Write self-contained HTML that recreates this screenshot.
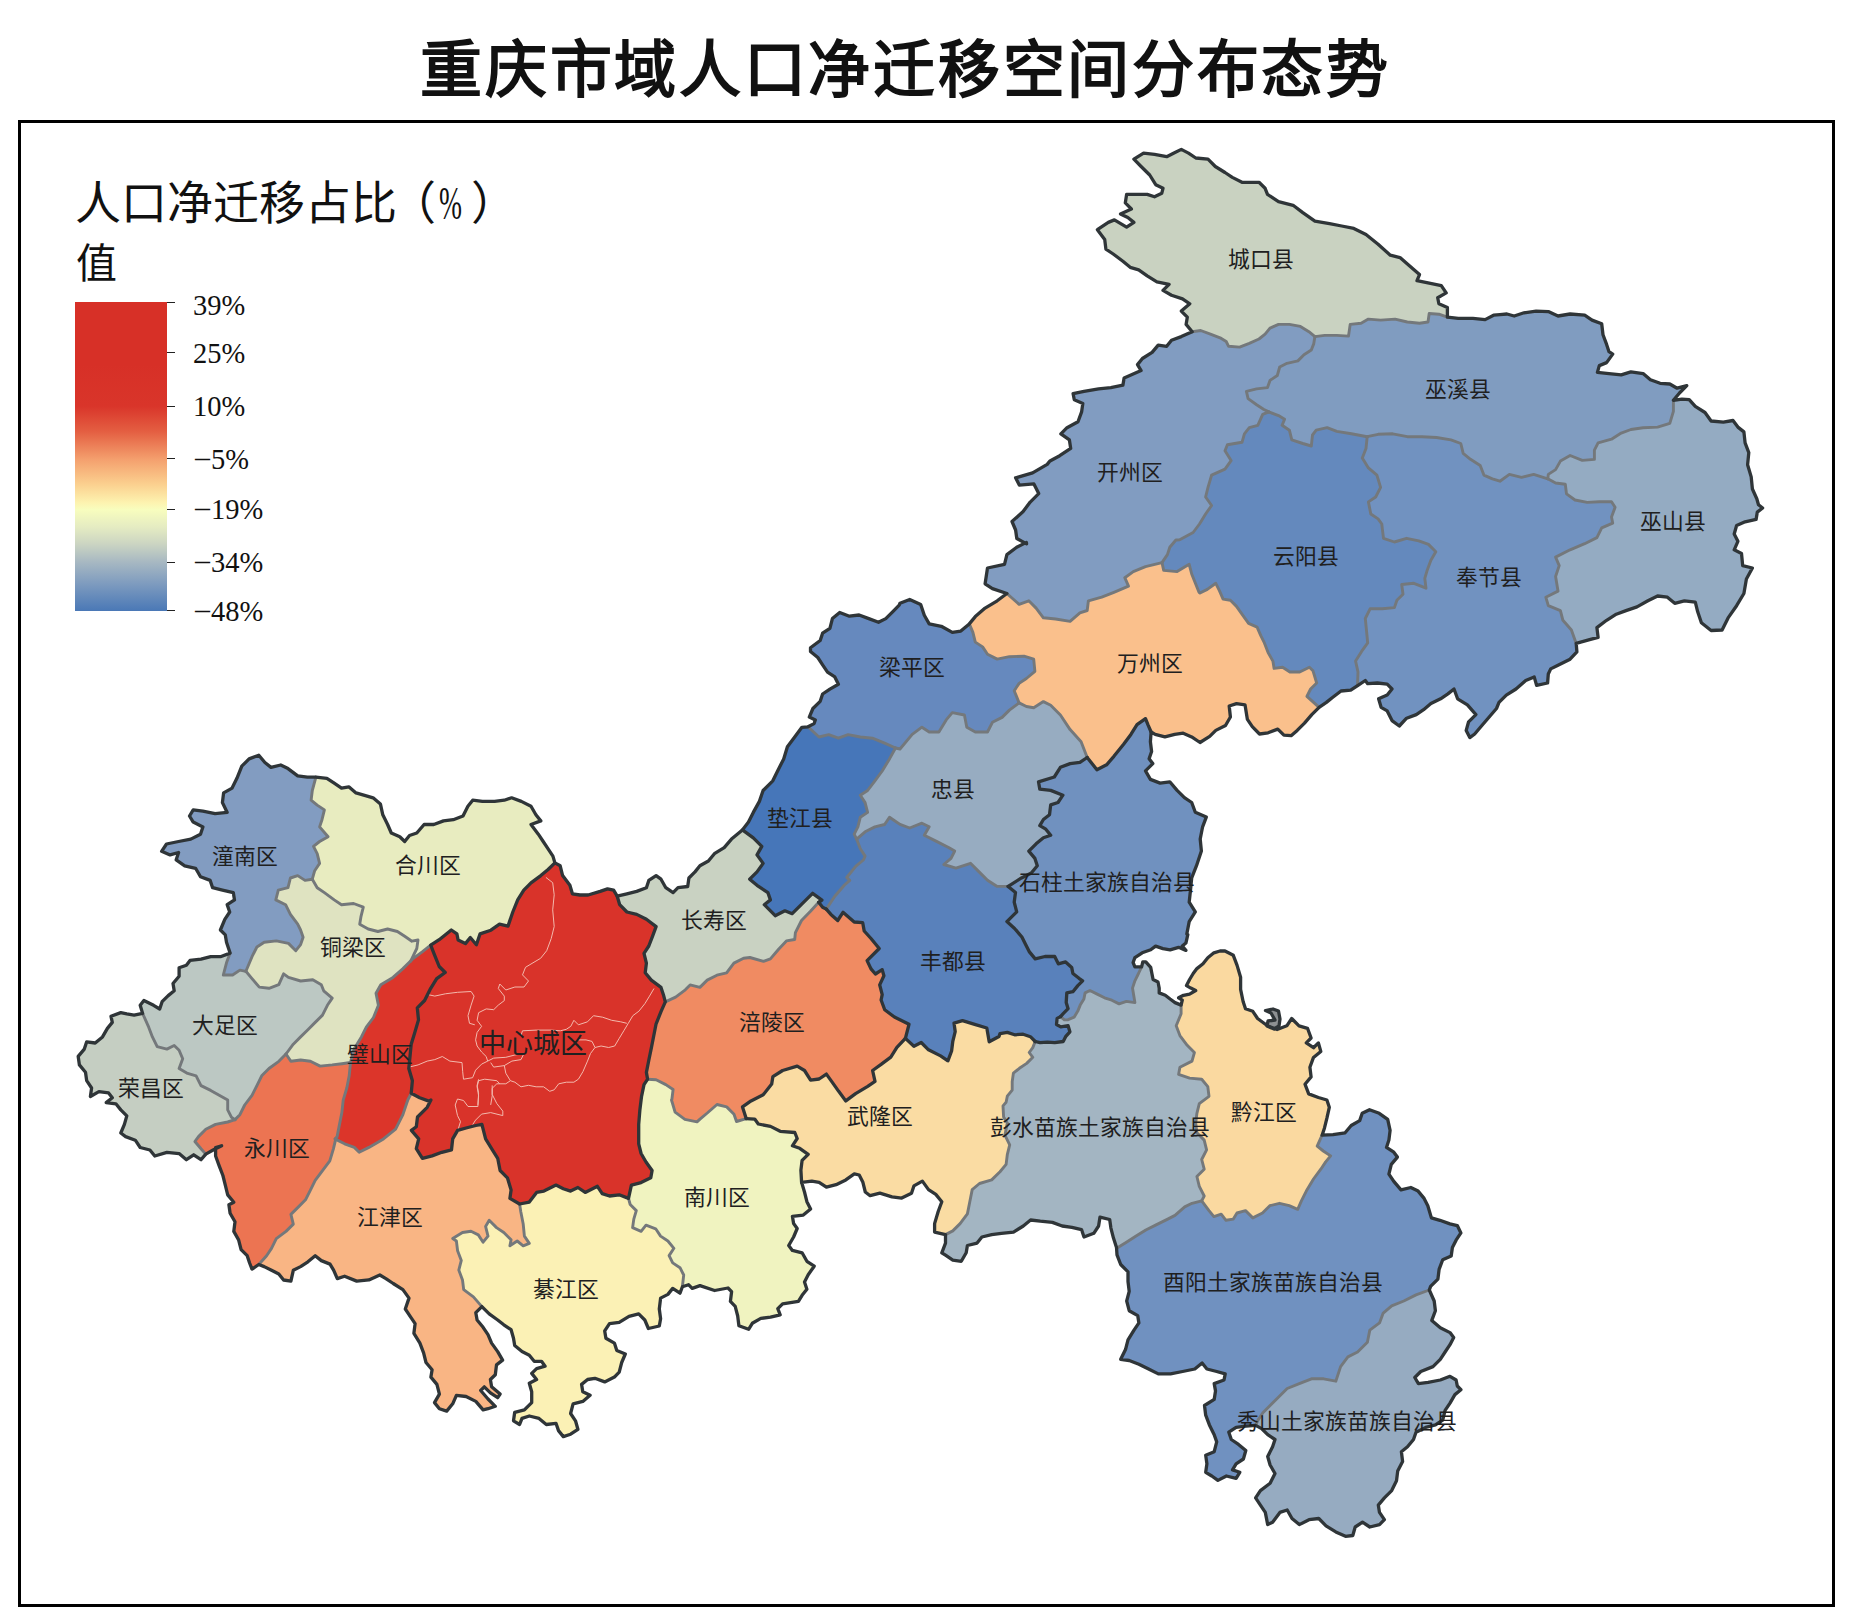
<!DOCTYPE html><html lang="zh-CN"><head><meta charset="utf-8"><title>重庆市域人口净迁移空间分布态势</title><style>
html,body{margin:0;padding:0;background:#fff}
body{width:1852px;height:1621px;position:relative;overflow:hidden;font-family:"Liberation Serif",serif;color:#111}
.title{position:absolute;left:0;top:26px;width:1811px;text-align:center;font-size:62px;font-weight:bold;line-height:90px;white-space:nowrap;letter-spacing:2.7px}
.frame{position:absolute;left:18px;top:120px;width:1817px;height:1487px;border:3px solid #000;box-sizing:border-box}
svg{position:absolute;left:0;top:0}
.lt{position:absolute;left:75px;top:174px;font-size:46px;line-height:60px;white-space:nowrap}
.pc{display:inline-block;width:23px;transform:scaleX(.6);transform-origin:0 50%}
.mn{display:inline-block;width:18px;transform:scaleX(1.15);transform-origin:0 50%}
.lv{position:absolute;left:76px;top:234px;font-size:41px;line-height:60px;white-space:nowrap}
.bar{position:absolute;left:75px;top:302px;width:92px;height:309px;background:linear-gradient(to bottom,#d73027 0%,#d73027 20%,#d9352a 33.7%,#e45f42 42%,#f4a06e 51%,#fbd08f 59%,#fdf3b0 65%,#f8fdbe 67.2%,#e4ebc2 73%,#cdd6c2 78%,#a7b8c2 84.2%,#7f9cbf 91%,#4a78b6 100%)}
.tk{position:absolute;left:167px;width:8px;height:1px;background:#222}
.tl{position:absolute;left:193px;font-size:28.5px;line-height:30px;white-space:nowrap}
</style></head><body>
<div class="title">重庆市域人口净迁移空间分布态势</div>
<div class="frame"></div>
<svg width="1852" height="1621" viewBox="0 0 1852 1621">
<path d="M1050,461 1059.7,455.7 1070.7,448.4 1069.4,439.9 1060.9,433.8 1067,427.7 1078,421.7 1081.6,411.9 1082.8,403.4 1074.3,399.8 1073.1,393.7 1084,391.3 1098.6,388.9 1110.8,387.6 1122.9,385.2 1124.1,377.9 1132.6,374.3 1141.1,370.6 1137.5,364.6 1142.4,358.5 1152.1,352.4 1158.2,345.1 1166.7,346.3 1171.5,340.2 1181.3,336.6 1192.2,331.7 1186.1,324.4 1187.3,317.2 1181.3,311.1 1189.8,303.8 1182.5,298.9 1171.5,295.3 1163,290.4 1169.1,284.3 1156.9,281.9 1147.2,275.8 1138.7,269.8 1130.2,267.3 1122.9,261.3 1113.2,254 1105.9,249.1 1104.7,239.4 1097.4,229.7 1108.3,222.4 1114.4,219.9 1126.6,227.2 1133.9,222.4 1127.8,217.5 1120.5,213.9 1131.4,209 1125.3,202.9 1126.6,194.4 1135.1,194.4 1147.2,194.4 1154.5,196.8 1161.8,193.2 1163,188.3 1155.7,184.7 1149.7,175 1141.1,166.5 1133.9,159.2 1143.6,153.1 1154.5,154.3 1166.7,156.7 1174,153.1 1181.3,149.4 1188.5,153.1 1195.8,158 1208,159.2 1215.3,166.5 1225,172.5 1232.3,177.4 1242,182.3 1259,182.3 1265.1,188.3 1267.5,194.4 1278.5,201.7 1293.1,205.3 1302.8,212.6 1314.9,221.1 1329.5,223.6 1341.7,226 1353.8,228.4 1366,234.5 1378.1,244.2 1390.3,255.2 1400,257.6 1409.7,266.1 1419.5,274.6 1417,280.7 1429.2,283.1 1441.3,285.6 1446.2,292.9 1437.7,297.7 1438.9,303.8 1447.4,307.4 1447.4,317.2 1458.3,318.4 1472.9,318.4 1485.1,319.6 1493.6,315.2 1499.9,314.7 1506.9,314 1514.2,316 1524,312.8 1536.1,311.1 1548.3,311.6 1558,316 1570.1,314 1584.7,315.2 1592,320.1 1601.7,323.8 1603,334.7 1606.6,344.4 1609,351.7 1612.7,354.1 1606.6,362.6 1599.3,365.6 1597.4,372.4 1609,373.6 1621.2,374.8 1630.9,371.9 1643.1,373.6 1650.4,379.7 1660.1,383.3 1669.8,384 1677.1,388.2 1686.8,385.7 1679.5,393 1673.4,400.3 1681.9,399.1 1689.2,399.6 1695.3,406.4 1705,412.5 1711.1,421 1723.3,422.2 1733,420.5 1737.9,427.1 1743.9,431.9 1745.1,442.9 1748.8,452.6 1747.6,464.7 1751.2,476.9 1752.4,489 1756.8,498.8 1758.5,504.8 1762.6,508 1757.3,512.1 1756.1,519.4 1745.1,521.8 1736.6,525.5 1734.2,534 1737.9,541.3 1734.2,549.8 1741.5,553.4 1742.7,565.6 1752.4,568 1746.4,579 1743.9,593.5 1736.6,605.7 1728.1,617.9 1722.1,630 1711.1,630.5 1701.4,622.7 1697.7,611.8 1695.3,602.1 1684.4,600.8 1674.7,603.3 1667.4,597.2 1657.6,596 1647.9,600.8 1637,606.9 1626,610.6 1616.3,614.2 1606.6,620.3 1596.9,627.6 1598.1,637.3 1589.6,639.7 1576.2,643.4 1576.9,651.9 1570.1,659.2 1558,665.2 1550.7,668.9 1548.3,674 1547.6,683 1536.6,685.4 1534.2,676.9 1525.7,680.5 1516,689 1506.3,695.1 1499,702.4 1496.5,708.5 1489.2,717 1481.9,725.5 1474.7,734 1469.8,737.6 1466.2,730.4 1468.6,721.8 1475.9,714.6 1467.4,704.8 1457.6,698.8 1454,689 1447.9,693.9 1440.6,698.8 1430.9,703.6 1423.6,709.7 1416.3,714.6 1406.6,718.2 1399.3,726 1392,720.6 1387.2,710.9 1381.1,707.3 1378.6,698.8 1387.2,695.1 1392,689 1387.2,684.2 1377.4,683 1367.7,683.7 1365.3,680.5 1358,685.4 1350.7,690.2 1341,691 1332.5,697.5 1326.4,702.4 1319.1,707.3 1311.8,714.6 1304.5,723.1 1297.2,730.4 1291.1,735.7 1283.9,735.2 1277.8,729.1 1268.1,732.8 1259.5,734 1252.3,726.7 1247.4,719.4 1245,704.8 1236.5,703.6 1229.2,706 1230.4,717 1225.5,725.5 1215.8,730.4 1209.7,736.4 1200,742.5 1191.7,736.9 1183.2,733.2 1174.7,734.4 1164.9,736.9 1155.2,734.4 1151.1,732 1150.4,741.7 1151.6,751.5 1149.1,758.8 1152.8,763.6 1145.5,770.9 1150.4,779.4 1160.1,783.1 1169.8,781.8 1177.1,790.4 1184.4,797.6 1191.7,802.5 1195.3,812.2 1206.3,817.1 1202.6,826.8 1200.2,839 1201.4,851.1 1196.5,865.7 1191.7,877.9 1190.5,890 1189.2,902.2 1195.3,911.9 1189.2,921.6 1186.8,934 1187.8,934.6 1185.9,943.1 1182.3,946.1 1185.9,950.4 1178.6,947.3 1170.1,949.8 1162.9,948.6 1155.6,946.1 1150.7,949.8 1142.2,952.8 1134.9,957.7 1133.1,962.5 1134.9,966.8 1141.6,966.8 1142.8,961.9 1145.8,961.9 1150.7,967.4 1151.9,973.5 1153.1,979.5 1158,982 1159.2,988.1 1159.2,992.9 1165.3,995.3 1170.1,999 1175,1002.6 1181.1,1005.1 1182.3,1000.2 1178.6,997.8 1183.5,995.3 1189.6,994.1 1195.7,990.5 1190.8,988.1 1186.5,985.6 1189.6,979.5 1193.2,973.5 1196.9,968.6 1203,963.8 1207.8,957.7 1213.9,952.8 1220,951 1225,951 1233.3,955.3 1237,965.1 1240.6,977.2 1240.6,989.4 1243.1,1001.5 1245.5,1008.8 1252.8,1011.3 1257.6,1018.5 1267.4,1025.8 1277.1,1029.5 1286.8,1025.8 1291.7,1018.5 1299,1025.8 1307.5,1028.3 1311.1,1038 1306.3,1042.9 1313.5,1047.7 1318.4,1042.9 1320.8,1051.4 1313.5,1057.4 1309.9,1067.2 1311.1,1076.9 1305,1084.2 1308.7,1093.9 1318.4,1097.5 1326.9,1100 1329.3,1107.3 1326.9,1118.2 1324.5,1127.9 1322.1,1135.2 1333,1134.7 1345.1,1132.8 1351.2,1125.5 1359.7,1120.6 1362.2,1113.3 1369.5,1109.7 1379.2,1113.3 1387.7,1119.4 1390.1,1130.4 1388.9,1140.1 1386.5,1147.4 1393.8,1152.2 1397.4,1157.1 1391.3,1164.4 1388.9,1174.1 1393.8,1181.4 1401,1189.9 1410.8,1187.5 1418.1,1191.1 1424.1,1198.4 1427.8,1205.7 1431.4,1217.9 1439.9,1220.3 1449.9,1223.9 1457.3,1225.6 1460.9,1232.9 1456.1,1240.2 1452.4,1247.5 1451.2,1256 1442.7,1259.7 1439.1,1269.4 1437.9,1279.1 1430.6,1286.4 1429.3,1290 1434.2,1301 1435.4,1310.7 1431.8,1320.4 1440.3,1327.7 1450,1332.6 1453.7,1337.4 1450,1344.7 1445.1,1352 1440.3,1359.3 1433,1366.6 1420.8,1371.5 1414.8,1377.5 1418.4,1383.6 1428.1,1382.4 1440.3,1380 1450,1376.3 1456.1,1380 1457.3,1386 1460.9,1389.7 1454.9,1394.6 1450,1403.1 1445.1,1410.4 1442.7,1420.1 1435.4,1424.9 1425.7,1427.4 1416,1432.2 1413.5,1439.5 1407.5,1446.8 1401.4,1451.7 1402.6,1461.4 1397.7,1471.1 1396.5,1480.8 1391.7,1490.6 1384.4,1497.9 1378.3,1505.1 1379.5,1512.4 1384.4,1519.7 1379.5,1524.6 1369.8,1527 1362.5,1522.2 1355.2,1527 1352.8,1535.5 1345.5,1536.3 1335.8,1531.9 1326,1525.8 1318.8,1518.5 1309,1519.7 1299.3,1524.6 1292,1518.5 1287.2,1510 1279.9,1512.4 1272.6,1522.2 1267.7,1524.6 1265.3,1512.4 1260.4,1505.1 1255.6,1497.9 1260.4,1490.6 1270.1,1483.3 1275,1473.5 1270.1,1465 1267.7,1456.5 1272.6,1446.8 1275,1439.5 1267.7,1434.7 1261.6,1428.6 1255.6,1425.4 1245.8,1426.2 1236.1,1427.4 1228.8,1432.2 1231.3,1439.5 1238.5,1444.4 1245.8,1450.5 1243.4,1459 1236.1,1463.8 1232.5,1469.9 1239.8,1472.3 1236.1,1478.4 1226.4,1476 1217.9,1480.4 1211.8,1476 1205.7,1472.3 1206.9,1463.8 1205.7,1455.3 1214.2,1451.7 1216.7,1441.9 1214.2,1434.7 1209.4,1424.9 1205.7,1415.2 1204.5,1405.5 1214.2,1399.4 1215.5,1390.9 1214.2,1383.6 1224,1380 1225.2,1373.9 1216.7,1371.5 1206.9,1369 1202.1,1363 1194.8,1369 1182.6,1371.5 1170.5,1373.9 1158.3,1373.9 1148.6,1369 1138.9,1364.2 1129.2,1360.5 1120.7,1359.3 1125.5,1349.6 1128,1339.9 1134,1330.1 1138.9,1322.9 1137.7,1315.6 1129.2,1310.7 1126.7,1301 1129.2,1291.3 1128,1281.5 1128,1271.8 1120.7,1264.5 1117,1254.8 1116.5,1247.5 1113.4,1237.8 1110.9,1228.1 1109.7,1219.5 1100,1217.1 1098.6,1226 1093.8,1233.3 1084,1237 1081.6,1229.7 1071.9,1227.3 1062.2,1226 1052.4,1222.4 1040.3,1221.2 1030.6,1220 1023.3,1226 1013.5,1232.1 1001.4,1233.3 991.7,1234.6 981.9,1237 977.1,1243.1 967.4,1245.5 966.2,1252.8 961.3,1261.3 952.8,1260.1 945.5,1255.2 941.8,1252.8 945.5,1243.1 945.5,1234.6 934.6,1232.1 934.6,1223.6 938.2,1211.5 941.8,1201.7 935.8,1194.4 928.5,1189.6 922.4,1181.1 913.9,1185.9 911.5,1193.2 901.7,1198.1 892,1196.9 879.9,1193.2 870.1,1195.7 865.3,1192 862.9,1182.3 859.2,1175 854.3,1173.8 845.8,1179.9 836.1,1184.7 826.4,1187.2 819.1,1182.3 811.8,1181.1 801.6,1182.3 804.5,1192 806.9,1201.7 810.6,1209 803.3,1215.1 792.4,1216.3 793.6,1223.6 797.2,1228.5 793.6,1237 788.7,1245.5 792.4,1250.4 802.1,1252.8 806.9,1261.3 814.2,1266.2 808.2,1274.7 804.5,1281.9 806.9,1289.2 802.1,1295.3 798.4,1301.4 782.6,1303.8 777.8,1308.7 780.2,1314.8 770.5,1317.2 760.8,1318.4 752.3,1323.3 748.6,1329.3 738.9,1325.7 737.7,1316 735.2,1306.3 730.4,1301.4 731.6,1291.7 728,1288 714.6,1290.5 700,1285.6 692.2,1288.4 688.5,1284.7 682.4,1286.7 680,1293.2 672.7,1288.4 667.9,1294.4 660.6,1298.1 659.3,1309 660.6,1318.8 659.3,1326 648.4,1328.5 644.8,1320 638.7,1313.9 629,1316.3 619.2,1322.4 609.5,1323.6 604.7,1330.9 605.9,1338.2 614.4,1343.1 616.8,1350.4 625.3,1354 621.7,1362.5 619.2,1372.2 614.4,1377.1 604.7,1381.9 594.9,1378.3 587.6,1379.5 581.6,1384.4 582.8,1391.7 590.1,1395.3 582.8,1401.4 573.1,1403.8 570.6,1413.5 575.5,1420.8 577.9,1429.3 570.6,1434.2 563.3,1436.6 558.5,1430.6 556,1423.3 546.3,1424.5 539,1418.4 529.3,1416 522,1418.4 519.6,1424.5 513.5,1420.8 514.7,1412.3 524.4,1409.9 531.7,1402.6 531.7,1391.7 529.3,1383.2 536.6,1379.5 531.7,1373.4 536.6,1368.6 545.1,1366.2 541.5,1361.3 534.2,1361.3 529.3,1355.2 522,1351.6 514.7,1345.5 513.5,1338.2 511.1,1329.7 503.8,1324.8 497.7,1320 489.2,1313.9 481.9,1306.6 475.8,1312.7 477.1,1320 483.1,1327.3 488,1334.6 491.6,1343.1 497.7,1351.6 502.6,1360.1 496.5,1364.9 495.3,1374.7 490.4,1379.5 491.6,1386.8 500.1,1394.1 497.7,1397.7 490.4,1392.9 484.3,1386.8 480.7,1390.5 488,1399 495.3,1406.3 488,1408.7 483.1,1409.9 475.8,1401.4 466.1,1396.5 456.4,1395.3 452.7,1403.8 446.7,1411.1 439.4,1408.7 434.5,1402.6 439.4,1394.1 436.9,1384.4 430.9,1377.1 432.1,1369.8 426,1362.5 423.6,1352.8 419.9,1343.1 413.9,1333.3 415.1,1323.6 410.2,1316.3 405.3,1309 409,1298.1 402.9,1289.6 393.2,1283.5 385.9,1278.6 379.8,1275 368.9,1279.9 356.7,1281.1 344.6,1276.2 337.3,1278.6 333.6,1270.1 330,1264.1 321.3,1260.6 315.2,1255.7 307.9,1261.8 300.6,1266.6 293.3,1270.3 290.9,1281.2 283.6,1280 278.8,1273.9 271.5,1270.3 264.2,1266.6 258.8,1264.5 252,1269.1 249.6,1263 247.2,1255.7 241.1,1249.6 238.6,1239.9 233.8,1231.4 235,1221.7 230.1,1213.2 228.9,1204.7 233.8,1202.2 227.7,1194.9 225.3,1185.2 222.9,1175.5 219.2,1165.8 215.6,1156 215.6,1147.5 221.6,1145.8 213.1,1150 205.8,1154.1 201,1159.7 193.7,1154.8 186.4,1159.7 179.1,1153.6 166.9,1152.4 154.8,1156 149.9,1150 140.2,1147.5 135.3,1140.2 125.6,1136.6 120.8,1133 124.4,1124.4 126.8,1115.9 120.8,1109.9 115.9,1103.8 106.2,1102.6 112.3,1097.7 108.6,1092.9 98.9,1091.6 90.4,1096.5 91.6,1088 86.7,1080.7 85.5,1072.2 79.4,1064.9 78.2,1056.4 84.3,1049.1 86.7,1041.8 95.2,1043 102.5,1036.9 107.4,1028.4 112.3,1022.4 111,1016.3 120.8,1012.6 126.8,1013.9 134.1,1015.1 142.6,1013.4 140.2,1005.3 143.9,1000.5 153.6,1005.3 159.7,1009 162.1,1001.7 168.2,995.6 174.2,990.8 173,983.5 179.1,976.2 179.1,967.7 186.4,965.2 190,960.4 201,959.2 210.7,956.7 220.4,956.7 230.1,953.1 226.5,942.2 225.3,934.9 220.4,930 224.8,919.3 229.7,912 227.2,904.7 234.5,899.9 233.3,892.6 222.4,890.1 212.6,887.7 210.2,880.4 200.5,876.8 195.6,868.3 184.7,865.8 176.2,859.8 178.6,852.5 170.1,854.9 161.6,851.3 166.5,844 178.6,841.5 190.8,839.1 200.5,834.2 202.9,826.9 193.2,822.1 189.5,816 193.2,809.9 202.9,811.1 215.1,813.6 227.2,812.4 222.4,802.6 223.6,792.9 232.1,788.1 236.9,778.3 241.8,766.2 249.1,758.9 258.8,755.2 264.9,762.5 271,767.4 280.7,765 288,768.6 297.7,775.9 307.4,777.1 315.9,777.1 326.9,778.3 334.2,783.2 341.5,788.1 348.8,786.8 356,792.9 364.6,795.3 373.1,797.8 380.4,803.9 382.8,814.8 387.6,824.5 391.3,833 399.8,836.7 404.7,841.5 409.5,835.5 416.8,833 424.1,824.5 433.8,824.5 443.5,820.9 453.3,819.7 463,816 467.9,806.3 472.7,800.2 482.4,801.4 494.6,801.4 504.3,800.2 511.6,797.8 521.3,801.4 531,806.3 535.9,814.8 540.8,820.9 531,824.5 538.3,834.2 543.2,841.5 548.1,848.8 552.9,856.1 554.9,862.9 560.2,865.8 562.6,875.6 569.9,885.3 572.4,893.8 579.9,895 588.1,895 600.2,891.4 607.5,888.9 613.6,890.1 617.2,896.2 626.9,893.8 636.7,891.4 646.4,887.7 648.8,880.4 656.1,875.6 661,879.2 665.8,887.7 673.1,892.6 678,887.7 687.7,886.5 688.9,878 695,871.9 699.9,865.8 708.4,861 714.4,853.7 724.2,847.6 731.5,839.1 738.8,833 742.4,829.9 748.5,822.1 753.3,812.4 759.4,801.4 763.1,790.5 772.8,780.8 777.6,771 783.7,758.9 787.4,746.7 794.7,737 801.9,727.3 808,726.8 814.1,723.6 815.3,720 815.3,720 809.3,717.1 812.9,708.5 820.2,701.3 822.6,694 829.9,689.1 838.4,684.2 834.8,676.9 827.5,672.1 822.6,664.8 817.8,657.5 810.5,651.4 810.5,647.8 820.2,640.5 822.6,633.2 829.9,628.3 832.4,618.6 839.7,612.5 849.4,616.2 859.1,615 868.8,618.6 878.5,622.3 885.8,618.6 893.1,611.3 899.2,605.2 900,603.2 909.7,599.5 920.7,604.4 924.3,615.3 929.2,623.9 941.3,626.3 952.3,632.4 960.8,631.1 969.3,623.9 975.3,616.6 985.1,608.1 997.2,600.8 1006.9,593.5 992.4,588.6 985.1,583.8 987.5,568 1004.5,564.3 1006.9,554.6 1016.7,547.3 1026.4,542.4 1026.6,543.9 1016.8,538.5 1015.6,530 1012,521.5 1022.9,511.8 1030.2,502.1 1038.7,493.6 1033.9,483.9 1019.3,485.1 1015.6,477.8 1032.6,472.9 1047.2,464.4 1049.9,461Z" fill="#74787b"/>
<g stroke-width="1" stroke-linejoin="round">
<path d="M1447.4,317.2 1447.4,307.4 1438.9,303.8 1437.7,297.7 1446.2,292.9 1441.3,285.6 1429.2,283.1 1417,280.7 1419.5,274.6 1409.7,266.1 1400,257.6 1390.3,255.2 1378.1,244.2 1366,234.5 1353.8,228.4 1341.7,226 1329.5,223.6 1314.9,221.1 1302.8,212.6 1293.1,205.3 1278.5,201.7 1267.5,194.4 1265.1,188.3 1259,182.3 1242,182.3 1232.3,177.4 1225,172.5 1215.3,166.5 1208,159.2 1195.8,158 1188.5,153.1 1181.3,149.4 1174,153.1 1166.7,156.7 1154.5,154.3 1143.6,153.1 1133.9,159.2 1141.1,166.5 1149.7,175 1155.7,184.7 1163,188.3 1161.8,193.2 1154.5,196.8 1147.2,194.4 1135.1,194.4 1126.6,194.4 1125.3,202.9 1131.4,209 1120.5,213.9 1127.8,217.5 1133.9,222.4 1126.6,227.2 1114.4,219.9 1108.3,222.4 1097.4,229.7 1104.7,239.4 1105.9,249.1 1113.2,254 1122.9,261.3 1130.2,267.3 1138.7,269.8 1147.2,275.8 1156.9,281.9 1169.1,284.3 1163,290.4 1171.5,295.3 1182.5,298.9 1189.8,303.8 1181.3,311.1 1187.3,317.2 1186.1,324.4 1192.2,331.7 1200.7,330.5 1210.4,334.2 1220.1,337.8 1226.2,341.5 1228.6,346.3 1239.6,347.1 1249.3,343.4 1259,339 1265.1,334.2 1270,328.1 1278.5,324.4 1289.4,324.4 1300.4,326.4 1308.9,331.7 1314.9,336.6 1324.7,335.4 1336.8,335.4 1348.5,336.1 1350.2,324.4 1361.1,323.2 1368.4,319.1 1380.6,320.1 1395.1,319.1 1407.3,322 1419.5,323.2 1428,322 1429.2,313.5 1438.9,314.2Z" fill="#c9d2c1" stroke="#c9d2c1"/>
<path d="M1673.4,400.3 1679.5,393 1686.8,385.7 1677.1,388.2 1669.8,384 1660.1,383.3 1650.4,379.7 1643.1,373.6 1630.9,371.9 1621.2,374.8 1609,373.6 1597.4,372.4 1599.3,365.6 1606.6,362.6 1612.7,354.1 1609,351.7 1606.6,344.4 1603,334.7 1601.7,323.8 1592,320.1 1584.7,315.2 1570.1,314 1558,316 1548.3,311.6 1536.1,311.1 1524,312.8 1514.2,316 1506.9,314 1499.9,314.7 1493.6,315.2 1485.1,319.6 1472.9,318.4 1458.3,318.4 1447.4,317.2 1438.9,314.2 1429.2,313.5 1428,322 1419.5,323.2 1407.3,322 1395.1,319.1 1380.6,320.1 1368.4,319.1 1361.1,323.2 1350.2,324.4 1348.5,336.1 1336.8,335.4 1324.7,335.4 1314.9,336.6 1313.7,343.9 1311.3,350 1304,354.8 1297.9,360.9 1287,363.3 1279.7,367 1277.3,375.5 1270,380.4 1267.5,387.6 1256.6,388.9 1246.4,391.3 1248.1,398.6 1256.6,404.7 1263.9,409.5 1268.8,411.9 1278.5,415.6 1284.6,419.2 1282.1,425.3 1289.4,430.2 1291.8,439.9 1302.8,443.5 1311.3,446 1312.5,435 1316.2,430.2 1327.1,427.7 1336.8,431.4 1351.4,433.8 1367.2,436.7 1378.1,434.3 1392.7,433.8 1407.3,436.7 1421.9,436.7 1436.5,437.5 1451,439.9 1460.8,443.5 1463.2,453.3 1470.5,459.3 1480.2,465.4 1483.9,475.1 1492.4,478.8 1499.9,481.2 1509.4,474.4 1521.5,477.4 1533.7,474.4 1547.8,478.8 1548.3,474.4 1555.6,469.6 1560.4,461.1 1570.1,455.5 1582.3,460.4 1594.4,459.4 1594.4,450.1 1598.1,442.9 1611.5,439.2 1621.2,433.1 1630.9,429.5 1643.1,427.8 1657.6,427.1 1669.8,423.4 1673.4,411.3Z" fill="#809cc0" stroke="#809cc0"/>
<path d="M1192.2,331.7 1181.3,336.6 1171.5,340.2 1166.7,346.3 1158.2,345.1 1152.1,352.4 1142.4,358.5 1137.5,364.6 1141.1,370.6 1132.6,374.3 1124.1,377.9 1122.9,385.2 1110.8,387.6 1098.6,388.9 1084,391.3 1073.1,393.7 1074.3,399.8 1082.8,403.4 1081.6,411.9 1078,421.7 1067,427.7 1060.9,433.8 1069.4,439.9 1070.7,448.4 1059.7,455.7 1050,461 1049.9,461 1047.2,464.4 1032.6,472.9 1015.6,477.8 1019.3,485.1 1033.9,483.9 1038.7,493.6 1030.2,502.1 1022.9,511.8 1012,521.5 1015.6,530 1016.8,538.5 1025.1,543.1 1016.7,547.3 1006.9,554.6 1004.5,564.3 987.5,568 985.1,583.8 992.4,588.6 1006.9,593.5 1019.1,604.4 1028.8,600.8 1036.1,608.1 1043.4,617.8 1055.6,619 1070.1,621.4 1079.9,612.9 1087.2,610.5 1088.4,600.8 1101.7,597.1 1113.9,592.3 1128.5,586.2 1124.8,577.7 1133.3,571.6 1145.5,566.7 1162,562.6 1167.4,554.6 1169.8,547.3 1175.9,540 1179.7,539.8 1193.1,532.5 1199.5,524 1205.6,514 1211.6,505.5 1205.6,497 1208,487.3 1211.6,475.1 1225,469.1 1231.1,460.6 1225,450.8 1227.4,444.8 1242,442.3 1244.4,433.8 1249.3,427.7 1257.8,425.3 1262.7,414.4 1268.8,411.9 1263.9,409.5 1256.6,404.7 1248.1,398.6 1246.4,391.3 1256.6,388.9 1267.5,387.6 1270,380.4 1277.3,375.5 1279.7,367 1287,363.3 1297.9,360.9 1304,354.8 1311.3,350 1313.7,343.9 1314.9,336.6 1308.9,331.7 1300.4,326.4 1289.4,324.4 1278.5,324.4 1270,328.1 1265.1,334.2 1259,339 1249.3,343.4 1239.6,347.1 1228.6,346.3 1226.2,341.5 1220.1,337.8 1210.4,334.2 1200.7,330.5Z" fill="#819cc1" stroke="#819cc1"/>
<path d="M1319.1,707.3 1326.4,702.4 1332.5,697.5 1341,691 1350.7,690.2 1357.5,685.7 1357.5,685.4 1358,672 1355.6,661.1 1361.6,651.4 1367.7,642.9 1366.5,630.7 1365.3,618.5 1370.1,608.8 1382.3,608.8 1394.4,607.6 1396.9,600.3 1403,594.2 1401.7,584.5 1413.9,583.3 1426,588.2 1424.8,578.4 1427.3,569.9 1430.9,560.2 1435.8,551.7 1428.5,544.4 1418.8,540.8 1406.6,538.3 1394.4,542 1383.5,538.3 1382.3,528.6 1381.8,524 1378.1,518.9 1370.8,514 1368.4,501.9 1375.7,497 1380.6,487.3 1376.9,475.1 1368.4,467.9 1362.3,458.1 1366,448.4 1367.2,436.7 1351.4,433.8 1336.8,431.4 1327.1,427.7 1316.2,430.2 1312.5,435 1311.3,446 1302.8,443.5 1291.8,439.9 1289.4,430.2 1282.1,425.3 1284.6,419.2 1278.5,415.6 1268.8,411.9 1262.7,414.4 1257.8,425.3 1249.3,427.7 1244.4,433.8 1242,442.3 1227.4,444.8 1225,450.8 1231.1,460.6 1225,469.1 1211.6,475.1 1208,487.3 1205.6,497 1211.6,505.5 1205.6,514 1199.5,524 1193.1,532.5 1179.7,539.8 1175.9,540 1169.8,547.3 1167.4,554.6 1162,562.6 1163.7,570.4 1177.1,571.6 1189.2,564.3 1191.7,574 1199,592.3 1200,593 1207.3,589.4 1215.8,583.3 1219.4,590.6 1223.1,599.1 1230.4,600.3 1236.5,606.4 1242.5,614.9 1248.6,623.4 1257.1,627.1 1260.8,635.6 1264.4,642.9 1268.1,652.6 1272.9,661.1 1274.1,668.4 1282.6,667.2 1289.9,672 1299.7,672 1309.4,667.2 1313,670.8 1316.7,683 1310.6,689 1306.9,696.3Z" fill="#6489bd" stroke="#6489bd"/>
<path d="M1357.5,685.7 1358,685.4 1365.3,680.5 1367.7,683.7 1377.4,683 1387.2,684.2 1392,689 1387.2,695.1 1378.6,698.8 1381.1,707.3 1387.2,710.9 1392,720.6 1399.3,726 1406.6,718.2 1416.3,714.6 1423.6,709.7 1430.9,703.6 1440.6,698.8 1447.9,693.9 1454,689 1457.6,698.8 1467.4,704.8 1475.9,714.6 1468.6,721.8 1466.2,730.4 1469.8,737.6 1474.7,734 1481.9,725.5 1489.2,717 1496.5,708.5 1499,702.4 1506.3,695.1 1516,689 1525.7,680.5 1534.2,676.9 1536.6,685.4 1547.6,683 1548.3,674 1550.7,668.9 1558,665.2 1570.1,659.2 1576.9,651.9 1576.2,643.4 1571.4,630 1562.9,620.3 1560.4,610.6 1548.3,605.7 1545.8,597.2 1558,591.1 1555.6,576.5 1559.2,565.6 1555.6,557.1 1570.1,549.8 1584.7,543.7 1596.9,537.6 1601.7,527.9 1612.7,523.1 1611.5,517 1615.1,507.3 1611.5,501.7 1599.3,501.7 1587.2,502.4 1575,500 1566.5,493.9 1565.3,484.2 1555.6,483 1547.8,478.8 1533.7,474.4 1521.5,477.4 1509.4,474.4 1499.9,481.2 1492.4,478.8 1483.9,475.1 1480.2,465.4 1470.5,459.3 1463.2,453.3 1460.8,443.5 1451,439.9 1436.5,437.5 1421.9,436.7 1407.3,436.7 1392.7,433.8 1378.1,434.3 1367.2,436.7 1366,448.4 1362.3,458.1 1368.4,467.9 1376.9,475.1 1380.6,487.3 1375.7,497 1368.4,501.9 1370.8,514 1378.1,518.9 1381.8,524 1382.3,528.6 1383.5,538.3 1394.4,542 1406.6,538.3 1418.8,540.8 1428.5,544.4 1435.8,551.7 1430.9,560.2 1427.3,569.9 1424.8,578.4 1426,588.2 1413.9,583.3 1401.7,584.5 1403,594.2 1396.9,600.3 1394.4,607.6 1382.3,608.8 1370.1,608.8 1365.3,618.5 1366.5,630.7 1367.7,642.9 1361.6,651.4 1355.6,661.1 1358,672 1357.5,685.4Z" fill="#7192c0" stroke="#7192c0"/>
<path d="M1576.2,643.4 1589.6,639.7 1598.1,637.3 1596.9,627.6 1606.6,620.3 1616.3,614.2 1626,610.6 1637,606.9 1647.9,600.8 1657.6,596 1667.4,597.2 1674.7,603.3 1684.4,600.8 1695.3,602.1 1697.7,611.8 1701.4,622.7 1711.1,630.5 1722.1,630 1728.1,617.9 1736.6,605.7 1743.9,593.5 1746.4,579 1752.4,568 1742.7,565.6 1741.5,553.4 1734.2,549.8 1737.9,541.3 1734.2,534 1736.6,525.5 1745.1,521.8 1756.1,519.4 1757.3,512.1 1762.6,508 1758.5,504.8 1756.8,498.8 1752.4,489 1751.2,476.9 1747.6,464.7 1748.8,452.6 1745.1,442.9 1743.9,431.9 1737.9,427.1 1733,420.5 1723.3,422.2 1711.1,421 1705,412.5 1695.3,406.4 1689.2,399.6 1681.9,399.1 1673.4,400.3 1673.4,411.3 1669.8,423.4 1657.6,427.1 1643.1,427.8 1630.9,429.5 1621.2,433.1 1611.5,439.2 1598.1,442.9 1594.4,450.1 1594.4,459.4 1582.3,460.4 1570.1,455.5 1560.4,461.1 1555.6,469.6 1548.3,474.4 1547.8,478.8 1555.6,483 1565.3,484.2 1566.5,493.9 1575,500 1587.2,502.4 1599.3,501.7 1611.5,501.7 1615.1,507.3 1611.5,517 1612.7,523.1 1601.7,527.9 1596.9,537.6 1584.7,543.7 1570.1,549.8 1555.6,557.1 1559.2,565.6 1555.6,576.5 1558,591.1 1545.8,597.2 1548.3,605.7 1560.4,610.6 1562.9,620.3 1571.4,630Z" fill="#94abc2" stroke="#94abc2"/>
<path d="M1151.1,732 1155.2,734.4 1164.9,736.9 1174.7,734.4 1183.2,733.2 1191.7,736.9 1200,742.5 1209.7,736.4 1215.8,730.4 1225.5,725.5 1230.4,717 1229.2,706 1236.5,703.6 1245,704.8 1247.4,719.4 1252.3,726.7 1259.5,734 1268.1,732.8 1277.8,729.1 1283.9,735.2 1291.1,735.7 1297.2,730.4 1304.5,723.1 1311.8,714.6 1319.1,707.3 1306.9,696.3 1310.6,689 1316.7,683 1313,670.8 1309.4,667.2 1299.7,672 1289.9,672 1282.6,667.2 1274.1,668.4 1272.9,661.1 1268.1,652.6 1264.4,642.9 1260.8,635.6 1257.1,627.1 1248.6,623.4 1242.5,614.9 1236.5,606.4 1230.4,600.3 1223.1,599.1 1219.4,590.6 1215.8,583.3 1207.3,589.4 1200,593 1199,592.3 1191.7,574 1189.2,564.3 1177.1,571.6 1163.7,570.4 1162,562.6 1145.5,566.7 1133.3,571.6 1124.8,577.7 1128.5,586.2 1113.9,592.3 1101.7,597.1 1088.4,600.8 1087.2,610.5 1079.9,612.9 1070.1,621.4 1055.6,619 1043.4,617.8 1036.1,608.1 1028.8,600.8 1019.1,604.4 1006.9,593.5 997.2,600.8 985.1,608.1 975.3,616.6 969.3,623.9 972.9,632.4 975.3,642.1 982.6,646.9 987.5,654.2 997.2,659.1 1009.4,656.7 1024,656.2 1033.7,659.1 1034.9,671.3 1026.4,678.5 1019.1,683.4 1014.2,690.7 1019.1,702.9 1026.4,706.5 1033.7,707.7 1043.4,701.6 1050.7,705.3 1060.4,715 1070.1,729.6 1081.1,741.7 1087.2,757.5 1096.9,769.7 1106.6,764.8 1113.9,756.3 1123.6,744.2 1130.9,734.4 1137,724.7 1145.5,718.6 1147.9,724.7Z" fill="#fac08c" stroke="#fac08c"/>
<path d="M969.3,623.9 960.8,631.1 952.3,632.4 941.3,626.3 929.2,623.9 924.3,615.3 920.7,604.4 909.7,599.5 900,603.2 899.2,605.2 893.1,611.3 885.8,618.6 878.5,622.3 868.8,618.6 859.1,615 849.4,616.2 839.7,612.5 832.4,618.6 829.9,628.3 822.6,633.2 820.2,640.5 810.5,647.8 810.5,651.4 817.8,657.5 822.6,664.8 827.5,672.1 834.8,676.9 838.4,684.2 829.9,689.1 822.6,694 820.2,701.3 812.9,708.5 809.3,717.1 815.3,720 814.1,723.6 808,726.8 819,737 828.7,734.6 838.4,738.2 848.1,734.6 860.3,737 872.4,738.2 884.6,743.1 895.5,748 900,749 912.2,734.4 921.9,727.2 929.2,732 938.9,732 946.2,719.9 952.3,712.6 964.4,715 966.8,727.2 975.3,732 987.5,732 992.4,722.3 1002.1,717.4 1009.4,710.1 1019.1,702.9 1014.2,690.7 1019.1,683.4 1026.4,678.5 1034.9,671.3 1033.7,659.1 1024,656.2 1009.4,656.7 997.2,659.1 987.5,654.2 982.6,646.9 975.3,642.1 972.9,632.4Z" fill="#6689be" stroke="#6689be"/>
<path d="M1008.2,886.4 1021.5,877.9 1031.3,873 1037.3,865.7 1034.9,858.4 1028.8,851.1 1036.1,843.8 1043.4,837.7 1050.7,835.3 1045.8,829.2 1039.8,825.6 1043.4,819.5 1049.5,814.7 1050.7,804.9 1058,802.5 1062.9,795.2 1050.7,790.4 1039.8,789.1 1038.5,781.8 1054.3,777 1060.4,767.3 1070.1,763.6 1079.9,762.4 1087.2,757.5 1081.1,741.7 1070.1,729.6 1060.4,715 1050.7,705.3 1043.4,701.6 1033.7,707.7 1026.4,706.5 1019.1,702.9 1009.4,710.1 1002.1,717.4 992.4,722.3 987.5,732 975.3,732 966.8,727.2 964.4,715 952.3,712.6 946.2,719.9 938.9,732 929.2,732 921.9,727.2 912.2,734.4 900,749 895.5,748 889.5,758.9 882.2,771 874.9,780.8 867.6,790.5 860.3,795.3 865.1,802.6 867.6,812.4 860.3,817.2 857.9,826.9 854.2,834.2 856.6,839.1 865.1,831.8 874.9,826.9 884.6,824.5 889.5,817.2 900,824.4 909.7,828 921.9,823.2 929.2,826.8 924.3,835.3 936.5,841.4 948.6,847.5 954.7,851.1 951,858.4 943.8,864.5 955.9,868.1 970.5,863.3 977.8,870.6 987.5,880.3 997.2,886.4Z" fill="#97acc1" stroke="#97acc1"/>
<path d="M808,726.8 801.9,727.3 794.7,737 787.4,746.7 783.7,758.9 777.6,771 772.8,780.8 763.1,790.5 759.4,801.4 753.3,812.4 748.5,822.1 742.4,829.9 753.3,837.9 761.8,846.4 757,854.9 763.1,863.4 757,871.9 749.7,879.2 757,885.3 767.9,892.6 770.4,899.9 764.3,904.7 775.2,915.7 784.9,910.8 792.2,913.7 812.6,893.3 821.2,899.6 821.9,900.1 818.7,902.3 822.6,907.2 826.3,909.1 834.8,896.2 844.5,885 849.8,880.4 846.7,877.5 855.9,866.1 863.4,860 865.1,856.1 860.3,848.8 856.6,839.1 854.2,834.2 857.9,826.9 860.3,817.2 867.6,812.4 865.1,802.6 860.3,795.3 867.6,790.5 874.9,780.8 882.2,771 889.5,758.9 895.5,748 884.6,743.1 872.4,738.2 860.3,737 848.1,734.6 838.4,738.2 828.7,734.6 819,737Z" fill="#4676b9" stroke="#4676b9"/>
<path d="M1141.6,966.8 1134.9,966.8 1133.1,962.5 1134.9,957.7 1142.2,952.8 1150.7,949.8 1155.6,946.1 1162.9,948.6 1170.1,949.8 1178.6,947.3 1185.9,950.4 1182.3,946.1 1185.9,943.1 1187.8,934.6 1186.8,934 1189.2,921.6 1195.3,911.9 1189.2,902.2 1190.5,890 1191.7,877.9 1196.5,865.7 1201.4,851.1 1200.2,839 1202.6,826.8 1206.3,817.1 1195.3,812.2 1191.7,802.5 1184.4,797.6 1177.1,790.4 1169.8,781.8 1160.1,783.1 1150.4,779.4 1145.5,770.9 1152.8,763.6 1149.1,758.8 1151.6,751.5 1150.4,741.7 1151.1,732 1147.9,724.7 1145.5,718.6 1137,724.7 1130.9,734.4 1123.6,744.2 1113.9,756.3 1106.6,764.8 1096.9,769.7 1087.2,757.5 1079.9,762.4 1070.1,763.6 1060.4,767.3 1054.3,777 1038.5,781.8 1039.8,789.1 1050.7,790.4 1062.9,795.2 1058,802.5 1050.7,804.9 1049.5,814.7 1043.4,819.5 1039.8,825.6 1045.8,829.2 1050.7,835.3 1043.4,837.7 1036.1,843.8 1028.8,851.1 1034.9,858.4 1037.3,865.7 1031.3,873 1021.5,877.9 1008.2,886.4 1015.5,892.4 1014.2,902.2 1016.7,911.9 1006.9,921.6 1014.6,928.5 1021.9,937 1025.5,944.3 1029.2,951.6 1035.2,958.9 1045,956.5 1054.7,956.5 1058.3,963.8 1065.6,961.9 1071.7,967.4 1072.9,973.5 1079,978.3 1082.6,980.8 1077.8,985.6 1072.9,991.7 1066.8,992.9 1066.2,1002.6 1068.1,1008.7 1063.2,1013.6 1060.5,1016.6 1064.4,1019.9 1068.1,1019.7 1074.1,1017.2 1077.8,1011.1 1080.2,1005.1 1083.9,999 1085.1,992.9 1089.9,990.5 1097.2,994.1 1104.5,997.8 1111.8,1000.2 1119.1,1003.9 1126.4,1001.4 1134.9,1002.6 1133.7,995.3 1132.5,988.1 1134.9,980.8 1138.5,973.5Z" fill="#7091bf" stroke="#7091bf"/>
<path d="M1060.5,1016.6 1063.2,1013.6 1068.1,1008.7 1066.2,1002.6 1066.8,992.9 1072.9,991.7 1077.8,985.6 1082.6,980.8 1079,978.3 1072.9,973.5 1071.7,967.4 1065.6,961.9 1058.3,963.8 1054.7,956.5 1045,956.5 1035.2,958.9 1029.2,951.6 1025.5,944.3 1021.9,937 1014.6,928.5 1006.9,921.6 1016.7,911.9 1014.2,902.2 1015.5,892.4 1008.2,886.4 997.2,886.4 987.5,880.3 977.8,870.6 970.5,863.3 955.9,868.1 943.8,864.5 951,858.4 954.7,851.1 948.6,847.5 936.5,841.4 924.3,835.3 929.2,826.8 921.9,823.2 909.7,828 900,824.4 889.5,817.2 884.6,824.5 874.9,826.9 865.1,831.8 856.6,839.1 860.3,848.8 865.1,856.1 863.4,860 855.9,866.1 846.7,877.5 849.8,880.4 844.5,885 834.8,896.2 826.3,909.1 830.9,914.4 837.7,920.5 843,912.3 854.2,922 862.7,922.7 864.2,931 871,938.5 879.2,948.5 867.1,960.6 871,968.9 875.4,974 882.2,969.6 883.9,975.7 879.7,984.9 882.2,994.7 881.1,1000 884.7,1009.7 894.4,1017 909,1024.3 905.4,1038.4 913.9,1046.2 921.2,1042.5 928.5,1049.8 940.6,1055.9 947.9,1060.8 951.6,1051 952.8,1041.3 955.2,1031.6 954,1023.1 962.5,1020.7 974.7,1024.3 986.8,1028 989.2,1041.8 999,1036.5 1000,1033.6 1007.3,1032.4 1014.6,1034.8 1023.1,1034.2 1030.4,1036.7 1035.2,1041.5 1040.1,1042.7 1047.4,1042.1 1054.7,1042.7 1063.2,1041.5 1065.6,1036.7 1069.9,1031.8 1068.1,1025.7 1060.8,1026.9 1056.5,1024.5 1057.1,1018.4Z" fill="#5981bb" stroke="#5981bb"/>
<path d="M742.4,829.9 738.8,833 731.5,839.1 724.2,847.6 714.4,853.7 708.4,861 699.9,865.8 695,871.9 688.9,878 687.7,886.5 678,887.7 673.1,892.6 665.8,887.7 661,879.2 656.1,875.6 648.8,880.4 646.4,887.7 636.7,891.4 626.9,893.8 617.2,896.2 619.7,904.7 626.9,912 636.7,914.4 646.4,919.3 656.1,926.6 652.5,936.3 648.8,946 644,953.3 646.4,963.1 645.2,972.8 651.3,980.1 661,987.4 663.4,994.7 665.3,1001.9 675.6,997.1 685.3,989.8 690.1,984.9 699.9,987.4 707.2,980.1 716.9,975.2 726.6,972.8 733.9,963.1 743.6,958.2 749.9,957.5 763.5,961.4 770.4,958.9 778.6,949.2 786.4,940.9 794.7,939.5 795.4,932.7 801.5,920.5 810.5,911.3 818.7,902.3 821.2,899.6 812.6,893.3 792.2,913.7 784.9,910.8 775.2,915.7 764.3,904.7 770.4,899.9 767.9,892.6 757,885.3 749.7,879.2 757,871.9 763.1,863.4 757,854.9 761.8,846.4 753.3,837.9Z" fill="#c9d2c2" stroke="#c9d2c2"/>
<path d="M746.2,1118.6 742.5,1106.9 751,1100.9 763.2,1094.8 771.7,1083.9 772.9,1076.6 782.6,1070.5 797.2,1066.1 804.5,1070.5 810.6,1080.2 819.1,1079 826.4,1074.1 832.5,1082.6 838.5,1091.1 845.8,1100.9 855.6,1093.6 867.7,1086.3 875,1081.4 872.6,1070.5 881.1,1064.4 890.8,1057.1 896.9,1047.4 905.4,1038.4 909,1024.3 894.4,1017 884.7,1009.7 881.1,1000 882.2,994.7 879.7,984.9 883.9,975.7 882.2,969.6 875.4,974 871,968.9 867.1,960.6 879.2,948.5 871,938.5 864.2,931 862.7,922.7 854.2,922 843,912.3 837.7,920.5 830.9,914.4 826.3,909.1 822.6,907.2 818.7,902.3 810.5,911.3 801.5,920.5 795.4,932.7 794.7,939.5 786.4,940.9 778.6,949.2 770.4,958.9 763.5,961.4 749.9,957.5 743.6,958.2 733.9,963.1 726.6,972.8 716.9,975.2 707.2,980.1 699.9,987.4 690.1,984.9 685.3,989.8 675.6,997.1 665.3,1001.9 661,1011.7 656.1,1023.8 653.7,1036 651.3,1048.1 648.8,1060.3 646.4,1072.4 647.6,1079.2 656.1,1079.7 665.8,1084.6 673.1,1089.5 671.9,1099.2 671.5,1100 675.1,1112.2 684.9,1119.4 697,1121.9 700,1119.1 707.3,1113 717,1104.5 726.7,1106.9 734,1114.2 736.5,1121.5Z" fill="#f08b62" stroke="#f08b62"/>
<path d="M801.6,1182.3 811.8,1181.1 819.1,1182.3 826.4,1187.2 836.1,1184.7 845.8,1179.9 854.3,1173.8 859.2,1175 862.9,1182.3 865.3,1192 870.1,1195.7 879.9,1193.2 892,1196.9 901.7,1198.1 911.5,1193.2 913.9,1185.9 922.4,1181.1 928.5,1189.6 935.8,1194.4 941.8,1201.7 938.2,1211.5 934.6,1223.6 934.6,1232.1 945.5,1234.6 952.8,1230.9 960.1,1223.6 967.4,1213.9 969.8,1201.7 972.2,1189.6 979.5,1183.5 991.7,1179.9 1000,1171.7 1006.1,1164.4 1007.3,1154.7 1009.7,1144.9 1004.9,1135.2 1007.3,1123.1 1003.6,1117 1003,1105.9 1006.1,1102.3 1007.3,1096.2 1012.2,1090.1 1012.2,1081.6 1013.4,1073.1 1019.4,1068.3 1026.7,1063.4 1032.8,1057.3 1029.2,1052.5 1032.8,1047.6 1035.2,1041.5 1030.4,1036.7 1023.1,1034.2 1014.6,1034.8 1007.3,1032.4 1000,1033.6 999,1036.5 989.2,1041.8 986.8,1028 974.7,1024.3 962.5,1020.7 954,1023.1 955.2,1031.6 952.8,1041.3 951.6,1051 947.9,1060.8 940.6,1055.9 928.5,1049.8 921.2,1042.5 913.9,1046.2 905.4,1038.4 896.9,1047.4 890.8,1057.1 881.1,1064.4 872.6,1070.5 875,1081.4 867.7,1086.3 855.6,1093.6 845.8,1100.9 838.5,1091.1 832.5,1082.6 826.4,1074.1 819.1,1079 810.6,1080.2 804.5,1070.5 797.2,1066.1 782.6,1070.5 772.9,1076.6 771.7,1083.9 763.2,1094.8 751,1100.9 742.5,1106.9 746.2,1118.6 754.7,1119.1 758.3,1124 770.5,1126.4 780.2,1131.3 794.8,1132.5 797.2,1138.5 792.4,1145.8 799.7,1148.3 808.2,1154.3 802.1,1160.4 800.9,1170.1Z" fill="#fadca3" stroke="#fadca3"/>
<path d="M1181.1,1005.1 1175,1002.6 1170.1,999 1165.3,995.3 1159.2,992.9 1159.2,988.1 1158,982 1153.1,979.5 1151.9,973.5 1150.7,967.4 1145.8,961.9 1142.8,961.9 1141.6,966.8 1138.5,973.5 1134.9,980.8 1132.5,988.1 1133.7,995.3 1134.9,1002.6 1126.4,1001.4 1119.1,1003.9 1111.8,1000.2 1104.5,997.8 1097.2,994.1 1089.9,990.5 1085.1,992.9 1083.9,999 1080.2,1005.1 1077.8,1011.1 1074.1,1017.2 1068.1,1019.7 1064.4,1019.9 1060.5,1016.6 1057.1,1018.4 1056.5,1024.5 1060.8,1026.9 1068.1,1025.7 1069.9,1031.8 1065.6,1036.7 1063.2,1041.5 1054.7,1042.7 1047.4,1042.1 1040.1,1042.7 1035.2,1041.5 1032.8,1047.6 1029.2,1052.5 1032.8,1057.3 1026.7,1063.4 1019.4,1068.3 1013.4,1073.1 1012.2,1081.6 1012.2,1090.1 1007.3,1096.2 1006.1,1102.3 1003,1105.9 1003.6,1117 1007.3,1123.1 1004.9,1135.2 1009.7,1144.9 1007.3,1154.7 1006.1,1164.4 1000,1171.7 991.7,1179.9 979.5,1183.5 972.2,1189.6 969.8,1201.7 967.4,1213.9 960.1,1223.6 952.8,1230.9 945.5,1234.6 945.5,1243.1 941.8,1252.8 945.5,1255.2 952.8,1260.1 961.3,1261.3 966.2,1252.8 967.4,1245.5 977.1,1243.1 981.9,1237 991.7,1234.6 1001.4,1233.3 1013.5,1232.1 1023.3,1226 1030.6,1220 1040.3,1221.2 1052.4,1222.4 1062.2,1226 1071.9,1227.3 1081.6,1229.7 1084,1237 1093.8,1233.3 1098.6,1226 1100,1217.1 1109.7,1219.5 1110.9,1228.1 1113.4,1237.8 1116.5,1247.5 1116.6,1248.3 1117.9,1247.5 1126.4,1242.2 1136.1,1236.1 1145.8,1230 1155.6,1225.1 1167.7,1219.1 1175,1215.4 1184.7,1206.9 1192,1203.3 1201.7,1200.8 1204.2,1196 1199.3,1186.3 1196.9,1176.5 1204.2,1169.2 1201.7,1159.5 1206.6,1149.8 1204.2,1140.1 1196.9,1132.8 1195.7,1123.1 1196.9,1113.3 1199.3,1103.6 1209,1096.3 1207.8,1086.6 1201.7,1079.3 1189.6,1078.1 1178.6,1074.4 1179.9,1067.2 1192,1061.1 1194.4,1052.6 1187.2,1045.3 1179.9,1035.6 1176.2,1025.8 1181.1,1013.7 1181.1,1005.2Z" fill="#a3b5c2" stroke="#a3b5c2"/>
<path d="M1322.1,1135.2 1324.5,1127.9 1326.9,1118.2 1329.3,1107.3 1326.9,1100 1318.4,1097.5 1308.7,1093.9 1305,1084.2 1311.1,1076.9 1309.9,1067.2 1313.5,1057.4 1320.8,1051.4 1318.4,1042.9 1313.5,1047.7 1306.3,1042.9 1311.1,1038 1307.5,1028.3 1299,1025.8 1291.7,1018.5 1286.8,1025.8 1277.1,1029.5 1267.4,1025.8 1257.6,1018.5 1252.8,1011.3 1245.5,1008.8 1243.1,1001.5 1240.6,989.4 1240.6,977.2 1237,965.1 1233.3,955.3 1225,951 1220,951 1213.9,952.8 1207.8,957.7 1203,963.8 1196.9,968.6 1193.2,973.5 1189.6,979.5 1186.5,985.6 1190.8,988.1 1195.7,990.5 1189.6,994.1 1183.5,995.3 1178.6,997.8 1182.3,1000.2 1181.1,1005.1 1181.1,1005.2 1181.1,1013.7 1176.2,1025.8 1179.9,1035.6 1187.2,1045.3 1194.4,1052.6 1192,1061.1 1179.9,1067.2 1178.6,1074.4 1189.6,1078.1 1201.7,1079.3 1207.8,1086.6 1209,1096.3 1199.3,1103.6 1196.9,1113.3 1195.7,1123.1 1196.9,1132.8 1204.2,1140.1 1206.6,1149.8 1201.7,1159.5 1204.2,1169.2 1196.9,1176.5 1199.3,1186.3 1204.2,1196 1201.7,1200.8 1209,1210.6 1213.9,1216.6 1221.2,1214.2 1226,1220.3 1233.3,1219.1 1237,1213 1245.5,1210.6 1252.8,1217.9 1262.5,1213 1269.8,1205.7 1279.5,1203.3 1289.2,1205.7 1297.7,1209.3 1301.4,1200.8 1306.3,1191.1 1313.5,1179 1320.8,1169.2 1325.7,1161.9 1330.6,1155.9 1323.3,1151 1317.2,1146.2Z" fill="#fad9a0" stroke="#fad9a0"/>
<path d="M1429.3,1290 1430.6,1286.4 1437.9,1279.1 1439.1,1269.4 1442.7,1259.7 1451.2,1256 1452.4,1247.5 1456.1,1240.2 1460.9,1232.9 1457.3,1225.6 1449.9,1223.9 1439.9,1220.3 1431.4,1217.9 1427.8,1205.7 1424.1,1198.4 1418.1,1191.1 1410.8,1187.5 1401,1189.9 1393.8,1181.4 1388.9,1174.1 1391.3,1164.4 1397.4,1157.1 1393.8,1152.2 1386.5,1147.4 1388.9,1140.1 1390.1,1130.4 1387.7,1119.4 1379.2,1113.3 1369.5,1109.7 1362.2,1113.3 1359.7,1120.6 1351.2,1125.5 1345.1,1132.8 1333,1134.7 1322.1,1135.2 1317.2,1146.2 1323.3,1151 1330.6,1155.9 1325.7,1161.9 1320.8,1169.2 1313.5,1179 1306.3,1191.1 1301.4,1200.8 1297.7,1209.3 1289.2,1205.7 1279.5,1203.3 1269.8,1205.7 1262.5,1213 1252.8,1217.9 1245.5,1210.6 1237,1213 1233.3,1219.1 1226,1220.3 1221.2,1214.2 1213.9,1216.6 1209,1210.6 1201.7,1200.8 1192,1203.3 1184.7,1206.9 1175,1215.4 1167.7,1219.1 1155.6,1225.1 1145.8,1230 1136.1,1236.1 1126.4,1242.2 1117.9,1247.5 1116.6,1248.3 1117,1254.8 1120.7,1264.5 1128,1271.8 1128,1281.5 1129.2,1291.3 1126.7,1301 1129.2,1310.7 1137.7,1315.6 1138.9,1322.9 1134,1330.1 1128,1339.9 1125.5,1349.6 1120.7,1359.3 1129.2,1360.5 1138.9,1364.2 1148.6,1369 1158.3,1373.9 1170.5,1373.9 1182.6,1371.5 1194.8,1369 1202.1,1363 1206.9,1369 1216.7,1371.5 1225.2,1373.9 1224,1380 1214.2,1383.6 1215.5,1390.9 1214.2,1399.4 1204.5,1405.5 1205.7,1415.2 1209.4,1424.9 1214.2,1434.7 1216.7,1441.9 1214.2,1451.7 1205.7,1455.3 1206.9,1463.8 1205.7,1472.3 1211.8,1476 1217.9,1480.4 1226.4,1476 1236.1,1478.4 1239.8,1472.3 1232.5,1469.9 1236.1,1463.8 1243.4,1459 1245.8,1450.5 1238.5,1444.4 1231.3,1439.5 1228.8,1432.2 1236.1,1427.4 1245.8,1426.2 1255.6,1425.4 1258,1420.1 1262.9,1412.8 1270.1,1405.5 1277.4,1398.2 1287.2,1388.5 1299.3,1383.6 1311.5,1378.8 1323.6,1378.8 1335.8,1381.2 1340.6,1366.6 1347.9,1356.9 1357.6,1352 1367.4,1342.3 1369.8,1330.1 1379.5,1322.9 1383.2,1313.1 1391.7,1305.8 1403.8,1301 1416,1294.9Z" fill="#7091c0" stroke="#7091c0"/>
<path d="M1255.6,1425.4 1261.6,1428.6 1267.7,1434.7 1275,1439.5 1272.6,1446.8 1267.7,1456.5 1270.1,1465 1275,1473.5 1270.1,1483.3 1260.4,1490.6 1255.6,1497.9 1260.4,1505.1 1265.3,1512.4 1267.7,1524.6 1272.6,1522.2 1279.9,1512.4 1287.2,1510 1292,1518.5 1299.3,1524.6 1309,1519.7 1318.8,1518.5 1326,1525.8 1335.8,1531.9 1345.5,1536.3 1352.8,1535.5 1355.2,1527 1362.5,1522.2 1369.8,1527 1379.5,1524.6 1384.4,1519.7 1379.5,1512.4 1378.3,1505.1 1384.4,1497.9 1391.7,1490.6 1396.5,1480.8 1397.7,1471.1 1402.6,1461.4 1401.4,1451.7 1407.5,1446.8 1413.5,1439.5 1416,1432.2 1425.7,1427.4 1435.4,1424.9 1442.7,1420.1 1445.1,1410.4 1450,1403.1 1454.9,1394.6 1460.9,1389.7 1457.3,1386 1456.1,1380 1450,1376.3 1440.3,1380 1428.1,1382.4 1418.4,1383.6 1414.8,1377.5 1420.8,1371.5 1433,1366.6 1440.3,1359.3 1445.1,1352 1450,1344.7 1453.7,1337.4 1450,1332.6 1440.3,1327.7 1431.8,1320.4 1435.4,1310.7 1434.2,1301 1429.3,1290 1416,1294.9 1403.8,1301 1391.7,1305.8 1383.2,1313.1 1379.5,1322.9 1369.8,1330.1 1367.4,1342.3 1357.6,1352 1347.9,1356.9 1340.6,1366.6 1335.8,1381.2 1323.6,1378.8 1311.5,1378.8 1299.3,1383.6 1287.2,1388.5 1277.4,1398.2 1270.1,1405.5 1262.9,1412.8 1258,1420.1Z" fill="#96abc1" stroke="#96abc1"/>
<path d="M682.4,1286.7 688.5,1284.7 692.2,1288.4 700,1285.6 714.6,1290.5 728,1288 731.6,1291.7 730.4,1301.4 735.2,1306.3 737.7,1316 738.9,1325.7 748.6,1329.3 752.3,1323.3 760.8,1318.4 770.5,1317.2 780.2,1314.8 777.8,1308.7 782.6,1303.8 798.4,1301.4 802.1,1295.3 806.9,1289.2 804.5,1281.9 808.2,1274.7 814.2,1266.2 806.9,1261.3 802.1,1252.8 792.4,1250.4 788.7,1245.5 793.6,1237 797.2,1228.5 793.6,1223.6 792.4,1216.3 803.3,1215.1 810.6,1209 806.9,1201.7 804.5,1192 801.6,1182.3 800.9,1170.1 802.1,1160.4 808.2,1154.3 799.7,1148.3 792.4,1145.8 797.2,1138.5 794.8,1132.5 780.2,1131.3 770.5,1126.4 758.3,1124 754.7,1119.1 746.2,1118.6 736.5,1121.5 734,1114.2 726.7,1106.9 717,1104.5 707.3,1113 700,1119.1 697,1121.9 684.9,1119.4 675.1,1112.2 671.5,1100 671.9,1099.2 673.1,1089.5 665.8,1084.6 656.1,1079.7 647.6,1079.2 644,1084.6 641.5,1096.7 641.1,1100 639.9,1109.7 638.7,1124.3 638.7,1143.8 641.1,1153.5 646,1162 652.1,1170.5 650.8,1177.8 641.1,1182.6 631.4,1185.1 628.5,1198.4 630.2,1204.5 636.3,1210.6 633.8,1219.1 632.6,1227.6 641.1,1231.3 646,1225.2 655.7,1228.8 660.6,1236.1 667.9,1241 673.9,1248.3 669.1,1255.6 672.7,1262.9 680,1267.7 683.7,1275Z" fill="#f0f3c0" stroke="#f0f3c0"/>
<path d="M481.9,1306.6 489.2,1313.9 497.7,1320 503.8,1324.8 511.1,1329.7 513.5,1338.2 514.7,1345.5 522,1351.6 529.3,1355.2 534.2,1361.3 541.5,1361.3 545.1,1366.2 536.6,1368.6 531.7,1373.4 536.6,1379.5 529.3,1383.2 531.7,1391.7 531.7,1402.6 524.4,1409.9 514.7,1412.3 513.5,1420.8 519.6,1424.5 522,1418.4 529.3,1416 539,1418.4 546.3,1424.5 556,1423.3 558.5,1430.6 563.3,1436.6 570.6,1434.2 577.9,1429.3 575.5,1420.8 570.6,1413.5 573.1,1403.8 582.8,1401.4 590.1,1395.3 582.8,1391.7 581.6,1384.4 587.6,1379.5 594.9,1378.3 604.7,1381.9 614.4,1377.1 619.2,1372.2 621.7,1362.5 625.3,1354 616.8,1350.4 614.4,1343.1 605.9,1338.2 604.7,1330.9 609.5,1323.6 619.2,1322.4 629,1316.3 638.7,1313.9 644.8,1320 648.4,1328.5 659.3,1326 660.6,1318.8 659.3,1309 660.6,1298.1 667.9,1294.4 672.7,1288.4 680,1293.2 682.4,1286.7 683.7,1275 680,1267.7 672.7,1262.9 669.1,1255.6 673.9,1248.3 667.9,1241 660.6,1236.1 655.7,1228.8 646,1225.2 641.1,1231.3 632.6,1227.6 633.8,1219.1 636.3,1210.6 630.2,1204.5 628.5,1198.4 619.2,1194.8 609.5,1196 602.2,1193.6 597.4,1186.3 585.2,1192.4 577.9,1187.5 570.6,1191.1 563.3,1188.7 556,1185.1 543.9,1191.1 536.6,1192.4 529.3,1202.1 519.6,1204 520.8,1211.8 523.2,1224 524.4,1236.1 529.3,1243.4 523.2,1245.8 517.2,1241 509.9,1245.8 511.1,1239.8 503.8,1232.5 496.5,1227.6 489.2,1220.3 485.6,1226.4 488,1236.1 483.1,1242.2 478.3,1234.9 471,1231.3 462.5,1232.5 452.7,1238.5 456.4,1241 457.6,1250.7 461.3,1260.4 458.8,1270.1 462.5,1279.9 463.7,1289.6 473.4,1296.9Z" fill="#fbf1b5" stroke="#fbf1b5"/>
<path d="M258.8,1264.5 264.2,1266.6 271.5,1270.3 278.8,1273.9 283.6,1280 290.9,1281.2 293.3,1270.3 300.6,1266.6 307.9,1261.8 315.2,1255.7 321.3,1260.6 330,1264.1 333.6,1270.1 337.3,1278.6 344.6,1276.2 356.7,1281.1 368.9,1279.9 379.8,1275 385.9,1278.6 393.2,1283.5 402.9,1289.6 409,1298.1 405.3,1309 410.2,1316.3 415.1,1323.6 413.9,1333.3 419.9,1343.1 423.6,1352.8 426,1362.5 432.1,1369.8 430.9,1377.1 436.9,1384.4 439.4,1394.1 434.5,1402.6 439.4,1408.7 446.7,1411.1 452.7,1403.8 456.4,1395.3 466.1,1396.5 475.8,1401.4 483.1,1409.9 488,1408.7 495.3,1406.3 488,1399 480.7,1390.5 484.3,1386.8 490.4,1392.9 497.7,1397.7 500.1,1394.1 491.6,1386.8 490.4,1379.5 495.3,1374.7 496.5,1364.9 502.6,1360.1 497.7,1351.6 491.6,1343.1 488,1334.6 483.1,1327.3 477.1,1320 475.8,1312.7 481.9,1306.6 473.4,1296.9 463.7,1289.6 462.5,1279.9 458.8,1270.1 461.3,1260.4 457.6,1250.7 456.4,1241 452.7,1238.5 462.5,1232.5 471,1231.3 478.3,1234.9 483.1,1242.2 488,1236.1 485.6,1226.4 489.2,1220.3 496.5,1227.6 503.8,1232.5 511.1,1239.8 509.9,1245.8 517.2,1241 523.2,1245.8 529.3,1243.4 524.4,1236.1 523.2,1224 520.8,1211.8 519.6,1204 509.9,1198.4 511.1,1189.9 507.4,1177.8 500.1,1170.5 497.7,1158.3 491.6,1148.6 485.6,1138.9 481.9,1124.3 475.8,1125.5 466.1,1128 457.6,1130.4 452.7,1138.9 451.5,1149.8 441.8,1152.3 432.1,1155.9 422.4,1158.3 416.3,1148.6 418.7,1138.9 411.4,1130.4 416.3,1126.7 417.5,1117 427.2,1107.3 430.9,1100 429.5,1101.4 419.7,1097.7 411.2,1093.3 407.8,1100 402.9,1114.6 395.6,1129.2 383.5,1138.9 368.9,1147.4 359.2,1152.3 354.3,1147.4 344.6,1143.8 335.7,1139.3 333.4,1148.8 329.8,1160.9 322.5,1170.6 315.2,1180.4 310.4,1190.1 305.5,1199.8 298.2,1207.1 290.9,1214.4 293.3,1224.1 286,1231.4 276.3,1238.7 271.5,1248.4 266.6,1255.7Z" fill="#f9b584" stroke="#f9b584"/>
<path d="M215.6,1148.8 215.6,1156 219.2,1165.8 222.9,1175.5 225.3,1185.2 227.7,1194.9 233.8,1202.2 228.9,1204.7 230.1,1213.2 235,1221.7 233.8,1231.4 238.6,1239.9 241.1,1249.6 247.2,1255.7 249.6,1263 252,1269.1 258.8,1264.5 266.6,1255.7 271.5,1248.4 276.3,1238.7 286,1231.4 293.3,1224.1 290.9,1214.4 298.2,1207.1 305.5,1199.8 310.4,1190.1 315.2,1180.4 322.5,1170.6 329.8,1160.9 333.4,1148.8 335.7,1139.3 335.3,1139.1 334.9,1138.9 335.9,1138.3 337.1,1136.6 339.5,1124.4 341.9,1112.3 343.2,1100.1 346.8,1088 349.2,1075.8 350.5,1062.5 341.9,1063.7 332.2,1064.9 320.1,1066.1 310.4,1061.3 300.6,1060 290.9,1061.3 286,1054 278.8,1061.3 269,1068.5 261.7,1075.8 256.9,1085.6 252,1095.3 244.7,1105 239.9,1114.7 235,1119.6 227.7,1122 215.6,1124.4 205.8,1129.3 198.5,1136.6 194.9,1141.5 201,1148.8 205.8,1154.1 213.1,1150Z" fill="#ec7452" stroke="#ec7452"/>
<path d="M142.6,1013.4 134.1,1015.1 126.8,1013.9 120.8,1012.6 111,1016.3 112.3,1022.4 107.4,1028.4 102.5,1036.9 95.2,1043 86.7,1041.8 84.3,1049.1 78.2,1056.4 79.4,1064.9 85.5,1072.2 86.7,1080.7 91.6,1088 90.4,1096.5 98.9,1091.6 108.6,1092.9 112.3,1097.7 106.2,1102.6 115.9,1103.8 120.8,1109.9 126.8,1115.9 124.4,1124.4 120.8,1133 125.6,1136.6 135.3,1140.2 140.2,1147.5 149.9,1150 154.8,1156 166.9,1152.4 179.1,1153.6 186.4,1159.7 193.7,1154.8 201,1159.7 205.8,1154.1 201,1148.8 194.9,1141.5 198.5,1136.6 205.8,1129.3 215.6,1124.4 227.7,1122 235,1119.6 231.4,1117.2 227.7,1109.9 227.7,1100.1 219.2,1095.3 210.7,1090.4 201,1085.6 196.1,1075.8 187.6,1073.4 179.1,1068.5 182.7,1058.8 179.1,1050.3 174.2,1045.5 166.9,1049.1 157.2,1046.7 152.4,1036.9 148.7,1027.2Z" fill="#c5cec2" stroke="#c5cec2"/>
<path d="M230.1,953.1 220.4,956.7 210.7,956.7 201,959.2 190,960.4 186.4,965.2 179.1,967.7 179.1,976.2 173,983.5 174.2,990.8 168.2,995.6 162.1,1001.7 159.7,1009 153.6,1005.3 143.9,1000.5 140.2,1005.3 142.6,1013.4 148.7,1027.2 152.4,1036.9 157.2,1046.7 166.9,1049.1 174.2,1045.5 179.1,1050.3 182.7,1058.8 179.1,1068.5 187.6,1073.4 196.1,1075.8 201,1085.6 210.7,1090.4 219.2,1095.3 227.7,1100.1 227.7,1109.9 231.4,1117.2 235,1119.6 239.9,1114.7 244.7,1105 252,1095.3 256.9,1085.6 261.7,1075.8 269,1068.5 278.8,1061.3 286,1054 293.3,1044.2 300.6,1036.9 307.9,1029.7 315.2,1022.4 322.5,1015.1 327.4,1005.3 332.2,998.1 323.7,990.8 321.3,984.7 312.8,979.8 300.6,981 288.5,977.4 283.6,973.8 278.8,984.7 269,988.3 259.3,987.1 252,978.6 245.9,971.3 239.9,970.1 232.6,975 223.3,975 226.5,962.8Z" fill="#bcc8c3" stroke="#bcc8c3"/>
<path d="M312.3,879.2 305,880.4 297.7,875.6 290.4,878 288,887.7 278.3,890.1 275.8,899.9 285.6,904.7 290.4,914.4 297.7,924.2 300.6,930 303.1,937.3 300.6,944.6 295.8,950.7 288.5,943.4 276.3,940.9 264.2,942.2 256.9,947 252,956.7 245.9,971.3 252,978.6 259.3,987.1 269,988.3 278.8,984.7 283.6,973.8 288.5,977.4 300.6,981 312.8,979.8 321.3,984.7 323.7,990.8 332.2,998.1 327.4,1005.3 322.5,1015.1 315.2,1022.4 307.9,1029.7 300.6,1036.9 293.3,1044.2 286,1054 290.9,1061.3 300.6,1060 310.4,1061.3 320.1,1066.1 332.2,1064.9 341.9,1063.7 350.5,1062.5 354.1,1049.1 361.4,1036.9 366.3,1027.2 373.5,1017.5 378.4,1005.3 376,993.2 380.8,984.7 393,977.4 402.7,968.9 410.9,960.7 416.8,948.5 418,940 411.9,941.2 404.7,936.3 397.4,931.5 387.6,929 377.9,931.5 368.2,929 359.7,924.2 360.9,916.9 363.3,907.2 353.6,903.5 341.5,904.7 334.2,899.9 324.4,892.6 317.2,887.7Z" fill="#dfe3c1" stroke="#dfe3c1"/>
<path d="M315.9,777.1 307.4,777.1 297.7,775.9 288,768.6 280.7,765 271,767.4 264.9,762.5 258.8,755.2 249.1,758.9 241.8,766.2 236.9,778.3 232.1,788.1 223.6,792.9 222.4,802.6 227.2,812.4 215.1,813.6 202.9,811.1 193.2,809.9 189.5,816 193.2,822.1 202.9,826.9 200.5,834.2 190.8,839.1 178.6,841.5 166.5,844 161.6,851.3 170.1,854.9 178.6,852.5 176.2,859.8 184.7,865.8 195.6,868.3 200.5,876.8 210.2,880.4 212.6,887.7 222.4,890.1 233.3,892.6 234.5,899.9 227.2,904.7 229.7,912 224.8,919.3 220.4,930 225.3,934.9 226.5,942.2 230.1,953.1 226.5,962.8 223.3,975 232.6,975 239.9,970.1 245.9,971.3 252,956.7 256.9,947 264.2,942.2 276.3,940.9 288.5,943.4 295.8,950.7 300.6,944.6 303.1,937.3 300.6,930 297.7,924.2 290.4,914.4 285.6,904.7 275.8,899.9 278.3,890.1 288,887.7 290.4,878 297.7,875.6 305,880.4 312.3,879.2 314.7,870.7 319.6,863.4 317.2,853.7 313.5,846.4 319.6,841.5 328.1,836.7 319.6,826.9 322,819.7 324.4,809.9 317.2,805.1 311.1,800.2 312.3,790.5Z" fill="#829cc1" stroke="#829cc1"/>
<path d="M554.9,862.9 552.9,856.1 548.1,848.8 543.2,841.5 538.3,834.2 531,824.5 540.8,820.9 535.9,814.8 531,806.3 521.3,801.4 511.6,797.8 504.3,800.2 494.6,801.4 482.4,801.4 472.7,800.2 467.9,806.3 463,816 453.3,819.7 443.5,820.9 433.8,824.5 424.1,824.5 416.8,833 409.5,835.5 404.7,841.5 399.8,836.7 391.3,833 387.6,824.5 382.8,814.8 380.4,803.9 373.1,797.8 364.6,795.3 356,792.9 348.8,786.8 341.5,788.1 334.2,783.2 326.9,778.3 315.9,777.1 312.3,790.5 311.1,800.2 317.2,805.1 324.4,809.9 322,819.7 319.6,826.9 328.1,836.7 319.6,841.5 313.5,846.4 317.2,853.7 319.6,863.4 314.7,870.7 312.3,879.2 317.2,887.7 324.4,892.6 334.2,899.9 341.5,904.7 353.6,903.5 363.3,907.2 360.9,916.9 359.7,924.2 368.2,929 377.9,931.5 387.6,929 397.4,931.5 404.7,936.3 411.9,941.2 418,940 416.8,948.5 410.9,960.7 412.4,959.2 422.2,951.9 430.7,945.1 439.2,939.7 451.3,930 456.9,933.9 458.1,940 465.4,943.6 470.3,937.5 476.4,944.8 480,933.9 490.9,930.2 499.5,924.2 508,926.1 512.8,912 517.7,899.9 523.8,890.1 531,882.9 540.8,875.6 548.1,869.5Z" fill="#e8ecc0" stroke="#e8ecc0"/>
<path d="M411.2,1093.3 412.4,1080.7 408.8,1068.5 410,1056.4 411.2,1044.2 414.9,1032.1 418.5,1019.9 417.3,1007.8 424.6,1000.5 430.7,988.3 436.7,978.6 445.2,972.5 439.2,966.5 434.3,954.3 430.7,945.1 422.2,951.9 412.4,959.2 410.9,960.7 402.7,968.9 393,977.4 380.8,984.7 376,993.2 378.4,1005.3 373.5,1017.5 366.3,1027.2 361.4,1036.9 354.1,1049.1 350.5,1062.5 349.2,1075.8 346.8,1088 343.2,1100.1 341.9,1112.3 339.5,1124.4 337.1,1136.6 335.9,1138.3 335.7,1139.3 344.6,1143.8 354.3,1147.4 359.2,1152.3 368.9,1147.4 383.5,1138.9 395.6,1129.2 402.9,1114.6 407.8,1100Z" fill="#dc352a" stroke="#dc352a"/>
<path d="M617.2,896.2 613.6,890.1 607.5,888.9 600.2,891.4 588.1,895 579.9,895 572.4,893.8 569.9,885.3 562.6,875.6 560.2,865.8 554.9,862.9 548.1,869.5 540.8,875.6 531,882.9 523.8,890.1 517.7,899.9 512.8,912 508,926.1 499.5,924.2 490.9,930.2 480,933.9 476.4,944.8 470.3,937.5 465.4,943.6 458.1,940 456.9,933.9 451.3,930 439.2,939.7 430.7,945.1 434.3,954.3 439.2,966.5 445.2,972.5 436.7,978.6 430.7,988.3 424.6,1000.5 417.3,1007.8 418.5,1019.9 414.9,1032.1 411.2,1044.2 410,1056.4 408.8,1068.5 412.4,1080.7 411.2,1093.3 419.7,1097.7 429.5,1101.4 430.9,1100 427.2,1107.3 417.5,1117 416.3,1126.7 411.4,1130.4 418.7,1138.9 416.3,1148.6 422.4,1158.3 432.1,1155.9 441.8,1152.3 451.5,1149.8 452.7,1138.9 457.6,1130.4 466.1,1128 475.8,1125.5 481.9,1124.3 485.6,1138.9 491.6,1148.6 497.7,1158.3 500.1,1170.5 507.4,1177.8 511.1,1189.9 509.9,1198.4 519.6,1204 529.3,1202.1 536.6,1192.4 543.9,1191.1 556,1185.1 563.3,1188.7 570.6,1191.1 577.9,1187.5 585.2,1192.4 597.4,1186.3 602.2,1193.6 609.5,1196 619.2,1194.8 628.5,1198.4 631.4,1185.1 641.1,1182.6 650.8,1177.8 652.1,1170.5 646,1162 641.1,1153.5 638.7,1143.8 638.7,1124.3 639.9,1109.7 641.1,1100 641.5,1096.7 644,1084.6 647.6,1079.2 646.4,1072.4 648.8,1060.3 651.3,1048.1 653.7,1036 656.1,1023.8 661,1011.7 665.3,1001.9 663.4,994.7 661,987.4 651.3,980.1 645.2,972.8 646.4,963.1 644,953.3 648.8,946 652.5,936.3 656.1,926.6 646.4,919.3 636.7,914.4 626.9,912 619.7,904.7Z" fill="#d9332a" stroke="#d9332a"/>
</g>
<g fill="none" stroke="#f3b9ad" stroke-width="1" stroke-linejoin="round">
<path d="M545.9,877.4 552.7,882.7 554.2,894.8 552.7,909.9 554.2,926.5 551.2,938.6 546.7,950.7 540.6,958.3 533,962.8 525.5,967.3 522.5,974.9 528.5,981 524,987 514.9,987 505.8,990 499.8,984 498.3,988.5 504.3,996.1 504.3,1000.6 498.3,1005.1 493.7,1009.7 486.2,1008.9 478.6,1012.7 477.1,1020.3 481.6,1026.3 477.1,1032.4 475.6,1039.9 477.1,1046 481.6,1052 486.2,1056.5 487.7,1061.1"/>
<path d="M428,994.6 434.8,996.1 445.4,993.8 457.5,992.3 471.1,991.5 474.1,996.1 471.1,1005.1 468,1015.7 469.5,1023.3 474.8,1024.8"/>
<path d="M654,988.5 649.5,996.1 644.9,1003.6 638.9,1011.2 632.8,1015.7 628.3,1023.3 623.8,1030.8 619.2,1038.4 614.7,1046 608.6,1047.5 601.1,1046 595,1047.5 590.5,1053.5 587.5,1061.1 582.9,1071.7 578.4,1079.2 573.9,1082.2 566.3,1082.2 558.7,1083.8 554.2,1089.8 549.7,1091.3 543.6,1086.8 536.1,1086.8 528.5,1085.3 521,1086.8 514.9,1082.2 510.4,1080.7"/>
<path d="M626.8,1023.3 620.7,1021.8 611.7,1020.3 602.6,1017.2 593.5,1015.7 587.5,1021.8 578.4,1024.8 573.9,1020.3 570.8,1026.3 566.3,1029.3 560.3,1030.8 551.2,1030.1 536.1,1030.1 522.5,1030.8 521,1035.4"/>
<path d="M595,1047.5 592,1041.4 586,1039.9 578.4,1039.9"/>
<path d="M409.1,1067.1 418.1,1064.9 427.2,1061.1 434.8,1059.6 442.3,1056.5 449.9,1061.1 462,1062.6 462.7,1071.7 463.5,1079.2 472.6,1077.7 475.6,1070.2 481.6,1064.1 487.7,1061.1"/>
<path d="M487.7,1061.1 493.7,1058.1 505.8,1057.3 514.9,1055 524,1053.5 521,1059.6 511.9,1061.1 504.3,1065.6 493.7,1067.1 490.7,1062.6"/>
<path d="M504.3,1065.6 505.8,1073.2 510.4,1080.7 505.8,1083.8 496.8,1083.8 492.2,1088.3 492.2,1095.9 490.7,1104.9"/>
<path d="M499.8,1083.8 496.8,1080.7 484.7,1079.2 478.6,1080.7 477.1,1086.8 478.6,1095.9 477.9,1104.9"/>
<path d="M478.6,1079.3 477.1,1085.4 478.6,1092.9 477.9,1106.5 468,1106.5 463.5,1100.5 457.5,1099 455.2,1105 457.5,1115.6 460.5,1121.6 458.2,1129.2"/>
<path d="M492.2,1085.4 492.2,1094.4 496.8,1103.5 502.8,1111.1 502.8,1115.6 490.7,1112.6 481.6,1114.1 475.6,1120.1 472.6,1124.7"/>
</g>
<g fill="none" stroke="#74787b" stroke-width="2.9" stroke-linejoin="round" stroke-linecap="round">
<path d="M1192.2,331.7 1200.7,330.5 1210.4,334.2 1220.1,337.8 1226.2,341.5 1228.6,346.3 1239.6,347.1 1249.3,343.4 1259,339 1265.1,334.2 1270,328.1 1278.5,324.4 1289.4,324.4 1300.4,326.4 1308.9,331.7 1314.9,336.6"/>
<path d="M1314.9,336.6 1324.7,335.4 1336.8,335.4 1348.5,336.1 1350.2,324.4 1361.1,323.2 1368.4,319.1 1380.6,320.1 1395.1,319.1 1407.3,322 1419.5,323.2 1428,322 1429.2,313.5 1438.9,314.2 1447.4,317.2"/>
<path d="M1314.9,336.6 1313.7,343.9 1311.3,350 1304,354.8 1297.9,360.9 1287,363.3 1279.7,367 1277.3,375.5 1270,380.4 1267.5,387.6 1256.6,388.9 1246.4,391.3 1248.1,398.6 1256.6,404.7 1263.9,409.5 1268.8,411.9"/>
<path d="M1268.8,411.9 1262.7,414.4 1257.8,425.3 1249.3,427.7 1244.4,433.8 1242,442.3 1227.4,444.8 1225,450.8 1231.1,460.6 1225,469.1 1211.6,475.1 1208,487.3 1205.6,497 1211.6,505.5 1205.6,514 1199.5,524 1193.1,532.5 1179.7,539.8 1175.9,540 1169.8,547.3 1167.4,554.6 1162,562.6"/>
<path d="M1268.8,411.9 1278.5,415.6 1284.6,419.2 1282.1,425.3 1289.4,430.2 1291.8,439.9 1302.8,443.5 1311.3,446 1312.5,435 1316.2,430.2 1327.1,427.7 1336.8,431.4 1351.4,433.8 1367.2,436.7"/>
<path d="M1367.2,436.7 1378.1,434.3 1392.7,433.8 1407.3,436.7 1421.9,436.7 1436.5,437.5 1451,439.9 1460.8,443.5 1463.2,453.3 1470.5,459.3 1480.2,465.4 1483.9,475.1 1492.4,478.8 1499.9,481.2 1509.4,474.4 1521.5,477.4 1533.7,474.4 1547.8,478.8"/>
<path d="M1367.2,436.7 1366,448.4 1362.3,458.1 1368.4,467.9 1376.9,475.1 1380.6,487.3 1375.7,497 1368.4,501.9 1370.8,514 1378.1,518.9 1381.8,524 1382.3,528.6 1383.5,538.3 1394.4,542 1406.6,538.3 1418.8,540.8 1428.5,544.4 1435.8,551.7 1430.9,560.2 1427.3,569.9 1424.8,578.4 1426,588.2 1413.9,583.3 1401.7,584.5 1403,594.2 1396.9,600.3 1394.4,607.6 1382.3,608.8 1370.1,608.8 1365.3,618.5 1366.5,630.7 1367.7,642.9 1361.6,651.4 1355.6,661.1 1358,672 1357.5,685.4"/>
<path d="M1673.4,400.3 1673.4,411.3 1669.8,423.4 1657.6,427.1 1643.1,427.8 1630.9,429.5 1621.2,433.1 1611.5,439.2 1598.1,442.9 1594.4,450.1 1594.4,459.4 1582.3,460.4 1570.1,455.5 1560.4,461.1 1555.6,469.6 1548.3,474.4 1547.8,478.8"/>
<path d="M1547.8,478.8 1555.6,483 1565.3,484.2 1566.5,493.9 1575,500 1587.2,502.4 1599.3,501.7 1611.5,501.7 1615.1,507.3 1611.5,517 1612.7,523.1 1601.7,527.9 1596.9,537.6 1584.7,543.7 1570.1,549.8 1555.6,557.1 1559.2,565.6 1555.6,576.5 1558,591.1 1545.8,597.2 1548.3,605.7 1560.4,610.6 1562.9,620.3 1571.4,630 1576.2,643.4"/>
<path d="M1319.1,707.3 1306.9,696.3 1310.6,689 1316.7,683 1313,670.8 1309.4,667.2 1299.7,672 1289.9,672 1282.6,667.2 1274.1,668.4 1272.9,661.1 1268.1,652.6 1264.4,642.9 1260.8,635.6 1257.1,627.1 1248.6,623.4 1242.5,614.9 1236.5,606.4 1230.4,600.3 1223.1,599.1 1219.4,590.6 1215.8,583.3 1207.3,589.4 1200,593 1199,592.3 1191.7,574 1189.2,564.3 1177.1,571.6 1163.7,570.4 1162,562.6"/>
<path d="M1006.9,593.5 1019.1,604.4 1028.8,600.8 1036.1,608.1 1043.4,617.8 1055.6,619 1070.1,621.4 1079.9,612.9 1087.2,610.5 1088.4,600.8 1101.7,597.1 1113.9,592.3 1128.5,586.2 1124.8,577.7 1133.3,571.6 1145.5,566.7 1162,562.6"/>
<path d="M969.3,623.9 972.9,632.4 975.3,642.1 982.6,646.9 987.5,654.2 997.2,659.1 1009.4,656.7 1024,656.2 1033.7,659.1 1034.9,671.3 1026.4,678.5 1019.1,683.4 1014.2,690.7 1019.1,702.9"/>
<path d="M1019.1,702.9 1009.4,710.1 1002.1,717.4 992.4,722.3 987.5,732 975.3,732 966.8,727.2 964.4,715 952.3,712.6 946.2,719.9 938.9,732 929.2,732 921.9,727.2 912.2,734.4 900,749 895.5,748"/>
<path d="M1019.1,702.9 1026.4,706.5 1033.7,707.7 1043.4,701.6 1050.7,705.3 1060.4,715 1070.1,729.6 1081.1,741.7 1087.2,757.5"/>
<path d="M1008.2,886.4 997.2,886.4 987.5,880.3 977.8,870.6 970.5,863.3 955.9,868.1 943.8,864.5 951,858.4 954.7,851.1 948.6,847.5 936.5,841.4 924.3,835.3 929.2,826.8 921.9,823.2 909.7,828 900,824.4 889.5,817.2 884.6,824.5 874.9,826.9 865.1,831.8 856.6,839.1"/>
<path d="M1060.5,1016.6 1064.4,1019.9 1068.1,1019.7 1074.1,1017.2 1077.8,1011.1 1080.2,1005.1 1083.9,999 1085.1,992.9 1089.9,990.5 1097.2,994.1 1104.5,997.8 1111.8,1000.2 1119.1,1003.9 1126.4,1001.4 1134.9,1002.6 1133.7,995.3 1132.5,988.1 1134.9,980.8 1138.5,973.5 1141.6,966.8"/>
<path d="M1035.2,1041.5 1032.8,1047.6 1029.2,1052.5 1032.8,1057.3 1026.7,1063.4 1019.4,1068.3 1013.4,1073.1 1012.2,1081.6 1012.2,1090.1 1007.3,1096.2 1006.1,1102.3 1003,1105.9 1003.6,1117 1007.3,1123.1 1004.9,1135.2 1009.7,1144.9 1007.3,1154.7 1006.1,1164.4 1000,1171.7 991.7,1179.9 979.5,1183.5 972.2,1189.6 969.8,1201.7 967.4,1213.9 960.1,1223.6 952.8,1230.9 945.5,1234.6"/>
<path d="M1181.1,1005.2 1181.1,1013.7 1176.2,1025.8 1179.9,1035.6 1187.2,1045.3 1194.4,1052.6 1192,1061.1 1179.9,1067.2 1178.6,1074.4 1189.6,1078.1 1201.7,1079.3 1207.8,1086.6 1209,1096.3 1199.3,1103.6 1196.9,1113.3 1195.7,1123.1 1196.9,1132.8 1204.2,1140.1 1206.6,1149.8 1201.7,1159.5 1204.2,1169.2 1196.9,1176.5 1199.3,1186.3 1204.2,1196 1201.7,1200.8"/>
<path d="M1201.7,1200.8 1209,1210.6 1213.9,1216.6 1221.2,1214.2 1226,1220.3 1233.3,1219.1 1237,1213 1245.5,1210.6 1252.8,1217.9 1262.5,1213 1269.8,1205.7 1279.5,1203.3 1289.2,1205.7 1297.7,1209.3 1301.4,1200.8 1306.3,1191.1 1313.5,1179 1320.8,1169.2 1325.7,1161.9 1330.6,1155.9 1323.3,1151 1317.2,1146.2 1322.1,1135.2"/>
<path d="M1201.7,1200.8 1192,1203.3 1184.7,1206.9 1175,1215.4 1167.7,1219.1 1155.6,1225.1 1145.8,1230 1136.1,1236.1 1126.4,1242.2 1117.9,1247.5"/>
<path d="M1429.3,1290 1416,1294.9 1403.8,1301 1391.7,1305.8 1383.2,1313.1 1379.5,1322.9 1369.8,1330.1 1367.4,1342.3 1357.6,1352 1347.9,1356.9 1340.6,1366.6 1335.8,1381.2 1323.6,1378.8 1311.5,1378.8 1299.3,1383.6 1287.2,1388.5 1277.4,1398.2 1270.1,1405.5 1262.9,1412.8 1258,1420.1 1255.6,1425.4"/>
<path d="M746.2,1118.6 736.5,1121.5 734,1114.2 726.7,1106.9 717,1104.5 707.3,1113 700,1119.1 697,1121.9 684.9,1119.4 675.1,1112.2 671.5,1100 671.9,1099.2 673.1,1089.5 665.8,1084.6 656.1,1079.7 647.6,1079.2"/>
<path d="M682.4,1286.7 683.7,1275 680,1267.7 672.7,1262.9 669.1,1255.6 673.9,1248.3 667.9,1241 660.6,1236.1 655.7,1228.8 646,1225.2 641.1,1231.3 632.6,1227.6 633.8,1219.1 636.3,1210.6 630.2,1204.5 628.5,1198.4"/>
<path d="M481.9,1306.6 473.4,1296.9 463.7,1289.6 462.5,1279.9 458.8,1270.1 461.3,1260.4 457.6,1250.7 456.4,1241 452.7,1238.5 462.5,1232.5 471,1231.3 478.3,1234.9 483.1,1242.2 488,1236.1 485.6,1226.4 489.2,1220.3 496.5,1227.6 503.8,1232.5 511.1,1239.8 509.9,1245.8 517.2,1241 523.2,1245.8 529.3,1243.4 524.4,1236.1 523.2,1224 520.8,1211.8 519.6,1204"/>
<path d="M335.9,1138.3 334.9,1138.9 344.6,1143.8 354.3,1147.4 359.2,1152.3 368.9,1147.4 383.5,1138.9 395.6,1129.2 402.9,1114.6 407.8,1100 411.2,1093.3"/>
<path d="M142.6,1013.4 148.7,1027.2 152.4,1036.9 157.2,1046.7 166.9,1049.1 174.2,1045.5 179.1,1050.3 182.7,1058.8 179.1,1068.5 187.6,1073.4 196.1,1075.8 201,1085.6 210.7,1090.4 219.2,1095.3 227.7,1100.1 227.7,1109.9 231.4,1117.2 235,1119.6"/>
<path d="M235,1119.6 239.9,1114.7 244.7,1105 252,1095.3 256.9,1085.6 261.7,1075.8 269,1068.5 278.8,1061.3 286,1054"/>
<path d="M235,1119.6 227.7,1122 215.6,1124.4 205.8,1129.3 198.5,1136.6 194.9,1141.5 201,1148.8 205.8,1154.1"/>
<path d="M230.1,953.1 226.5,962.8 223.3,975 232.6,975 239.9,970.1 245.9,971.3"/>
<path d="M245.9,971.3 252,956.7 256.9,947 264.2,942.2 276.3,940.9 288.5,943.4 295.8,950.7 300.6,944.6 303.1,937.3 300.6,930 297.7,924.2 290.4,914.4 285.6,904.7 275.8,899.9 278.3,890.1 288,887.7 290.4,878 297.7,875.6 305,880.4 312.3,879.2"/>
<path d="M245.9,971.3 252,978.6 259.3,987.1 269,988.3 278.8,984.7 283.6,973.8 288.5,977.4 300.6,981 312.8,979.8 321.3,984.7 323.7,990.8 332.2,998.1 327.4,1005.3 322.5,1015.1 315.2,1022.4 307.9,1029.7 300.6,1036.9 293.3,1044.2 286,1054"/>
<path d="M286,1054 290.9,1061.3 300.6,1060 310.4,1061.3 320.1,1066.1 332.2,1064.9 341.9,1063.7 350.5,1062.5"/>
<path d="M350.5,1062.5 354.1,1049.1 361.4,1036.9 366.3,1027.2 373.5,1017.5 378.4,1005.3 376,993.2 380.8,984.7 393,977.4 402.7,968.9 412.4,959.2 422.2,951.9 430.7,945.1"/>
<path d="M350.5,1062.5 349.2,1075.8 346.8,1088 343.2,1100.1 341.9,1112.3 339.5,1124.4 337.1,1136.6 335.9,1138.3"/>
<path d="M335.9,1138.3 333.4,1148.8 329.8,1160.9 322.5,1170.6 315.2,1180.4 310.4,1190.1 305.5,1199.8 298.2,1207.1 290.9,1214.4 293.3,1224.1 286,1231.4 276.3,1238.7 271.5,1248.4 266.6,1255.7 258.8,1264.5"/>
<path d="M315.9,777.1 312.3,790.5 311.1,800.2 317.2,805.1 324.4,809.9 322,819.7 319.6,826.9 328.1,836.7 319.6,841.5 313.5,846.4 317.2,853.7 319.6,863.4 314.7,870.7 312.3,879.2"/>
<path d="M312.3,879.2 317.2,887.7 324.4,892.6 334.2,899.9 341.5,904.7 353.6,903.5 363.3,907.2 360.9,916.9 359.7,924.2 368.2,929 377.9,931.5 387.6,929 397.4,931.5 404.7,936.3 411.9,941.2 418,940 416.8,948.5 410.7,961.1"/>
<path d="M808,726.8 819,737 828.7,734.6 838.4,738.2 848.1,734.6 860.3,737 872.4,738.2 884.6,743.1 895.5,748"/>
<path d="M895.5,748 889.5,758.9 882.2,771 874.9,780.8 867.6,790.5 860.3,795.3 865.1,802.6 867.6,812.4 860.3,817.2 857.9,826.9 854.2,834.2 856.6,839.1"/>
<path d="M856.6,839.1 860.3,848.8 865.1,856.1 863.4,860 855.9,866.1 846.7,877.5 849.8,880.4 844.5,885 834.8,896.2 826.3,909.1"/>
<path d="M665.3,1001.9 675.6,997.1 685.3,989.8 690.1,984.9 699.9,987.4 707.2,980.1 716.9,975.2 726.6,972.8 733.9,963.1 743.6,958.2 749.9,957.5 763.5,961.4 770.4,958.9 778.6,949.2 786.4,940.9 794.7,939.5 795.4,932.7 801.5,920.5 810.5,911.3 818.7,902.3"/>
</g>
<g fill="none" stroke="#2f3538" stroke-width="3.3" stroke-linejoin="round" stroke-linecap="round">
<path d="M1151.1,732 1147.9,724.7 1145.5,718.6 1137,724.7 1130.9,734.4 1123.6,744.2 1113.9,756.3 1106.6,764.8 1096.9,769.7 1087.2,757.5"/>
<path d="M1087.2,757.5 1079.9,762.4 1070.1,763.6 1060.4,767.3 1054.3,777 1038.5,781.8 1039.8,789.1 1050.7,790.4 1062.9,795.2 1058,802.5 1050.7,804.9 1049.5,814.7 1043.4,819.5 1039.8,825.6 1045.8,829.2 1050.7,835.3 1043.4,837.7 1036.1,843.8 1028.8,851.1 1034.9,858.4 1037.3,865.7 1031.3,873 1021.5,877.9 1008.2,886.4"/>
<path d="M1008.2,886.4 1015.5,892.4 1014.2,902.2 1016.7,911.9 1006.9,921.6 1014.6,928.5 1021.9,937 1025.5,944.3 1029.2,951.6 1035.2,958.9 1045,956.5 1054.7,956.5 1058.3,963.8 1065.6,961.9 1071.7,967.4 1072.9,973.5 1079,978.3 1082.6,980.8 1077.8,985.6 1072.9,991.7 1066.8,992.9 1066.2,1002.6 1068.1,1008.7 1063.2,1013.6 1060.5,1016.6"/>
<path d="M1060.5,1016.6 1057.1,1018.4 1056.5,1024.5 1060.8,1026.9 1068.1,1025.7 1069.9,1031.8 1065.6,1036.7 1063.2,1041.5 1054.7,1042.7 1047.4,1042.1 1040.1,1042.7 1035.2,1041.5"/>
<path d="M1035.2,1041.5 1030.4,1036.7 1023.1,1034.2 1014.6,1034.8 1007.3,1032.4 1000,1033.6 999,1036.5 989.2,1041.8 986.8,1028 974.7,1024.3 962.5,1020.7 954,1023.1 955.2,1031.6 952.8,1041.3 951.6,1051 947.9,1060.8 940.6,1055.9 928.5,1049.8 921.2,1042.5 913.9,1046.2 905.4,1038.4"/>
<path d="M801.6,1182.3 800.9,1170.1 802.1,1160.4 808.2,1154.3 799.7,1148.3 792.4,1145.8 797.2,1138.5 794.8,1132.5 780.2,1131.3 770.5,1126.4 758.3,1124 754.7,1119.1 746.2,1118.6"/>
<path d="M746.2,1118.6 742.5,1106.9 751,1100.9 763.2,1094.8 771.7,1083.9 772.9,1076.6 782.6,1070.5 797.2,1066.1 804.5,1070.5 810.6,1080.2 819.1,1079 826.4,1074.1 832.5,1082.6 838.5,1091.1 845.8,1100.9 855.6,1093.6 867.7,1086.3 875,1081.4 872.6,1070.5 881.1,1064.4 890.8,1057.1 896.9,1047.4 905.4,1038.4"/>
<path d="M905.4,1038.4 909,1024.3 894.4,1017 884.7,1009.7 881.1,1000 882.2,994.7 879.7,984.9 883.9,975.7 882.2,969.6 875.4,974 871,968.9 867.1,960.6 879.2,948.5 871,938.5 864.2,931 862.7,922.7 854.2,922 843,912.3 837.7,920.5 830.9,914.4 826.3,909.1"/>
<path d="M554.9,862.9 548.1,869.5 540.8,875.6 531,882.9 523.8,890.1 517.7,899.9 512.8,912 508,926.1 499.5,924.2 490.9,930.2 480,933.9 476.4,944.8 470.3,937.5 465.4,943.6 458.1,940 456.9,933.9 451.3,930 451.3,930 439.2,939.7 430.7,945.1 434.3,954.3 439.2,966.5 445.2,972.5 436.7,978.6 430.7,988.3 424.6,1000.5 417.3,1007.8 418.5,1019.9 414.9,1032.1 411.2,1044.2 410,1056.4 408.8,1068.5 412.4,1080.7 411.2,1093.3 419.7,1097.7 429.5,1101.4 430.9,1100 427.2,1107.3 417.5,1117 416.3,1126.7 411.4,1130.4 418.7,1138.9 416.3,1148.6 422.4,1158.3 432.1,1155.9 441.8,1152.3 451.5,1149.8 452.7,1138.9 457.6,1130.4 466.1,1128 475.8,1125.5 481.9,1124.3 485.6,1138.9 491.6,1148.6 497.7,1158.3 500.1,1170.5 507.4,1177.8 511.1,1189.9 509.9,1198.4 519.6,1204 529.3,1202.1 536.6,1192.4 543.9,1191.1 556,1185.1 563.3,1188.7 570.6,1191.1 577.9,1187.5 585.2,1192.4 597.4,1186.3 602.2,1193.6 609.5,1196 619.2,1194.8 628.5,1198.4 631.4,1185.1 641.1,1182.6 650.8,1177.8 652.1,1170.5 646,1162 641.1,1153.5 638.7,1143.8 638.7,1124.3 639.9,1109.7 641.1,1100 641.5,1096.7 644,1084.6 647.6,1079.2 646.4,1072.4 648.8,1060.3 651.3,1048.1 653.7,1036 656.1,1023.8 661,1011.7 665.3,1001.9 663.4,994.7 661,987.4 651.3,980.1 645.2,972.8 646.4,963.1 644,953.3 648.8,946 652.5,936.3 656.1,926.6 646.4,919.3 636.7,914.4 626.9,912 619.7,904.7 617.2,896.2"/>
<path d="M742.4,829.9 753.3,837.9 761.8,846.4 757,854.9 763.1,863.4 757,871.9 749.7,879.2 757,885.3 767.9,892.6 770.4,899.9 764.3,904.7 775.2,915.7 784.9,910.8 792.2,913.7 812.6,893.3 821.9,900.1 818.7,902.3"/>
<path d="M818.7,902.3 822.6,907.2 826.3,909.1"/>
<path d="M1050,461 1059.7,455.7 1070.7,448.4 1069.4,439.9 1060.9,433.8 1067,427.7 1078,421.7 1081.6,411.9 1082.8,403.4 1074.3,399.8 1073.1,393.7 1084,391.3 1098.6,388.9 1110.8,387.6 1122.9,385.2 1124.1,377.9 1132.6,374.3 1141.1,370.6 1137.5,364.6 1142.4,358.5 1152.1,352.4 1158.2,345.1 1166.7,346.3 1171.5,340.2 1181.3,336.6 1192.2,331.7 1186.1,324.4 1187.3,317.2 1181.3,311.1 1189.8,303.8 1182.5,298.9 1171.5,295.3 1163,290.4 1169.1,284.3 1156.9,281.9 1147.2,275.8 1138.7,269.8 1130.2,267.3 1122.9,261.3 1113.2,254 1105.9,249.1 1104.7,239.4 1097.4,229.7 1108.3,222.4 1114.4,219.9 1126.6,227.2 1133.9,222.4 1127.8,217.5 1120.5,213.9 1131.4,209 1125.3,202.9 1126.6,194.4 1135.1,194.4 1147.2,194.4 1154.5,196.8 1161.8,193.2 1163,188.3 1155.7,184.7 1149.7,175 1141.1,166.5 1133.9,159.2 1143.6,153.1 1154.5,154.3 1166.7,156.7 1174,153.1 1181.3,149.4 1188.5,153.1 1195.8,158 1208,159.2 1215.3,166.5 1225,172.5 1232.3,177.4 1242,182.3 1259,182.3 1265.1,188.3 1267.5,194.4 1278.5,201.7 1293.1,205.3 1302.8,212.6 1314.9,221.1 1329.5,223.6 1341.7,226 1353.8,228.4 1366,234.5 1378.1,244.2 1390.3,255.2 1400,257.6 1409.7,266.1 1419.5,274.6 1417,280.7 1429.2,283.1 1441.3,285.6 1446.2,292.9 1437.7,297.7 1438.9,303.8 1447.4,307.4 1447.4,317.2 1458.3,318.4 1472.9,318.4 1485.1,319.6 1493.6,315.2 1499.9,314.7 1506.9,314 1514.2,316 1524,312.8 1536.1,311.1 1548.3,311.6 1558,316 1570.1,314 1584.7,315.2 1592,320.1 1601.7,323.8 1603,334.7 1606.6,344.4 1609,351.7 1612.7,354.1 1606.6,362.6 1599.3,365.6 1597.4,372.4 1609,373.6 1621.2,374.8 1630.9,371.9 1643.1,373.6 1650.4,379.7 1660.1,383.3 1669.8,384 1677.1,388.2 1686.8,385.7 1679.5,393 1673.4,400.3 1681.9,399.1 1689.2,399.6 1695.3,406.4 1705,412.5 1711.1,421 1723.3,422.2 1733,420.5 1737.9,427.1 1743.9,431.9 1745.1,442.9 1748.8,452.6 1747.6,464.7 1751.2,476.9 1752.4,489 1756.8,498.8 1758.5,504.8 1762.6,508 1757.3,512.1 1756.1,519.4 1745.1,521.8 1736.6,525.5 1734.2,534 1737.9,541.3 1734.2,549.8 1741.5,553.4 1742.7,565.6 1752.4,568 1746.4,579 1743.9,593.5 1736.6,605.7 1728.1,617.9 1722.1,630 1711.1,630.5 1701.4,622.7 1697.7,611.8 1695.3,602.1 1684.4,600.8 1674.7,603.3 1667.4,597.2 1657.6,596 1647.9,600.8 1637,606.9 1626,610.6 1616.3,614.2 1606.6,620.3 1596.9,627.6 1598.1,637.3 1589.6,639.7 1576.2,643.4 1576.9,651.9 1570.1,659.2 1558,665.2 1550.7,668.9 1548.3,674 1547.6,683 1536.6,685.4 1534.2,676.9 1525.7,680.5 1516,689 1506.3,695.1 1499,702.4 1496.5,708.5 1489.2,717 1481.9,725.5 1474.7,734 1469.8,737.6 1466.2,730.4 1468.6,721.8 1475.9,714.6 1467.4,704.8 1457.6,698.8 1454,689 1447.9,693.9 1440.6,698.8 1430.9,703.6 1423.6,709.7 1416.3,714.6 1406.6,718.2 1399.3,726 1392,720.6 1387.2,710.9 1381.1,707.3 1378.6,698.8 1387.2,695.1 1392,689 1387.2,684.2 1377.4,683 1367.7,683.7 1365.3,680.5 1358,685.4 1350.7,690.2 1341,691 1332.5,697.5 1326.4,702.4 1319.1,707.3 1311.8,714.6 1304.5,723.1 1297.2,730.4 1291.1,735.7 1283.9,735.2 1277.8,729.1 1268.1,732.8 1259.5,734 1252.3,726.7 1247.4,719.4 1245,704.8 1236.5,703.6 1229.2,706 1230.4,717 1225.5,725.5 1215.8,730.4 1209.7,736.4 1200,742.5 1191.7,736.9 1183.2,733.2 1174.7,734.4 1164.9,736.9 1155.2,734.4 1151.1,732 1150.4,741.7 1151.6,751.5 1149.1,758.8 1152.8,763.6 1145.5,770.9 1150.4,779.4 1160.1,783.1 1169.8,781.8 1177.1,790.4 1184.4,797.6 1191.7,802.5 1195.3,812.2 1206.3,817.1 1202.6,826.8 1200.2,839 1201.4,851.1 1196.5,865.7 1191.7,877.9 1190.5,890 1189.2,902.2 1195.3,911.9 1189.2,921.6 1186.8,934 1187.8,934.6 1185.9,943.1 1182.3,946.1 1185.9,950.4 1178.6,947.3 1170.1,949.8 1162.9,948.6 1155.6,946.1 1150.7,949.8 1142.2,952.8 1134.9,957.7 1133.1,962.5 1134.9,966.8 1141.6,966.8 1142.8,961.9 1145.8,961.9 1150.7,967.4 1151.9,973.5 1153.1,979.5 1158,982 1159.2,988.1 1159.2,992.9 1165.3,995.3 1170.1,999 1175,1002.6 1181.1,1005.1 1182.3,1000.2 1178.6,997.8 1183.5,995.3 1189.6,994.1 1195.7,990.5 1190.8,988.1 1186.5,985.6 1189.6,979.5 1193.2,973.5 1196.9,968.6 1203,963.8 1207.8,957.7 1213.9,952.8 1220,951 1225,951 1233.3,955.3 1237,965.1 1240.6,977.2 1240.6,989.4 1243.1,1001.5 1245.5,1008.8 1252.8,1011.3 1257.6,1018.5 1267.4,1025.8 1277.1,1029.5 1286.8,1025.8 1291.7,1018.5 1299,1025.8 1307.5,1028.3 1311.1,1038 1306.3,1042.9 1313.5,1047.7 1318.4,1042.9 1320.8,1051.4 1313.5,1057.4 1309.9,1067.2 1311.1,1076.9 1305,1084.2 1308.7,1093.9 1318.4,1097.5 1326.9,1100 1329.3,1107.3 1326.9,1118.2 1324.5,1127.9 1322.1,1135.2 1333,1134.7 1345.1,1132.8 1351.2,1125.5 1359.7,1120.6 1362.2,1113.3 1369.5,1109.7 1379.2,1113.3 1387.7,1119.4 1390.1,1130.4 1388.9,1140.1 1386.5,1147.4 1393.8,1152.2 1397.4,1157.1 1391.3,1164.4 1388.9,1174.1 1393.8,1181.4 1401,1189.9 1410.8,1187.5 1418.1,1191.1 1424.1,1198.4 1427.8,1205.7 1431.4,1217.9 1439.9,1220.3 1449.9,1223.9 1457.3,1225.6 1460.9,1232.9 1456.1,1240.2 1452.4,1247.5 1451.2,1256 1442.7,1259.7 1439.1,1269.4 1437.9,1279.1 1430.6,1286.4 1429.3,1290 1434.2,1301 1435.4,1310.7 1431.8,1320.4 1440.3,1327.7 1450,1332.6 1453.7,1337.4 1450,1344.7 1445.1,1352 1440.3,1359.3 1433,1366.6 1420.8,1371.5 1414.8,1377.5 1418.4,1383.6 1428.1,1382.4 1440.3,1380 1450,1376.3 1456.1,1380 1457.3,1386 1460.9,1389.7 1454.9,1394.6 1450,1403.1 1445.1,1410.4 1442.7,1420.1 1435.4,1424.9 1425.7,1427.4 1416,1432.2 1413.5,1439.5 1407.5,1446.8 1401.4,1451.7 1402.6,1461.4 1397.7,1471.1 1396.5,1480.8 1391.7,1490.6 1384.4,1497.9 1378.3,1505.1 1379.5,1512.4 1384.4,1519.7 1379.5,1524.6 1369.8,1527 1362.5,1522.2 1355.2,1527 1352.8,1535.5 1345.5,1536.3 1335.8,1531.9 1326,1525.8 1318.8,1518.5 1309,1519.7 1299.3,1524.6 1292,1518.5 1287.2,1510 1279.9,1512.4 1272.6,1522.2 1267.7,1524.6 1265.3,1512.4 1260.4,1505.1 1255.6,1497.9 1260.4,1490.6 1270.1,1483.3 1275,1473.5 1270.1,1465 1267.7,1456.5 1272.6,1446.8 1275,1439.5 1267.7,1434.7 1261.6,1428.6 1255.6,1425.4 1245.8,1426.2 1236.1,1427.4 1228.8,1432.2 1231.3,1439.5 1238.5,1444.4 1245.8,1450.5 1243.4,1459 1236.1,1463.8 1232.5,1469.9 1239.8,1472.3 1236.1,1478.4 1226.4,1476 1217.9,1480.4 1211.8,1476 1205.7,1472.3 1206.9,1463.8 1205.7,1455.3 1214.2,1451.7 1216.7,1441.9 1214.2,1434.7 1209.4,1424.9 1205.7,1415.2 1204.5,1405.5 1214.2,1399.4 1215.5,1390.9 1214.2,1383.6 1224,1380 1225.2,1373.9 1216.7,1371.5 1206.9,1369 1202.1,1363 1194.8,1369 1182.6,1371.5 1170.5,1373.9 1158.3,1373.9 1148.6,1369 1138.9,1364.2 1129.2,1360.5 1120.7,1359.3 1125.5,1349.6 1128,1339.9 1134,1330.1 1138.9,1322.9 1137.7,1315.6 1129.2,1310.7 1126.7,1301 1129.2,1291.3 1128,1281.5 1128,1271.8 1120.7,1264.5 1117,1254.8 1116.5,1247.5 1113.4,1237.8 1110.9,1228.1 1109.7,1219.5 1100,1217.1 1098.6,1226 1093.8,1233.3 1084,1237 1081.6,1229.7 1071.9,1227.3 1062.2,1226 1052.4,1222.4 1040.3,1221.2 1030.6,1220 1023.3,1226 1013.5,1232.1 1001.4,1233.3 991.7,1234.6 981.9,1237 977.1,1243.1 967.4,1245.5 966.2,1252.8 961.3,1261.3 952.8,1260.1 945.5,1255.2 941.8,1252.8 945.5,1243.1 945.5,1234.6 934.6,1232.1 934.6,1223.6 938.2,1211.5 941.8,1201.7 935.8,1194.4 928.5,1189.6 922.4,1181.1 913.9,1185.9 911.5,1193.2 901.7,1198.1 892,1196.9 879.9,1193.2 870.1,1195.7 865.3,1192 862.9,1182.3 859.2,1175 854.3,1173.8 845.8,1179.9 836.1,1184.7 826.4,1187.2 819.1,1182.3 811.8,1181.1 801.6,1182.3 804.5,1192 806.9,1201.7 810.6,1209 803.3,1215.1 792.4,1216.3 793.6,1223.6 797.2,1228.5 793.6,1237 788.7,1245.5 792.4,1250.4 802.1,1252.8 806.9,1261.3 814.2,1266.2 808.2,1274.7 804.5,1281.9 806.9,1289.2 802.1,1295.3 798.4,1301.4 782.6,1303.8 777.8,1308.7 780.2,1314.8 770.5,1317.2 760.8,1318.4 752.3,1323.3 748.6,1329.3 738.9,1325.7 737.7,1316 735.2,1306.3 730.4,1301.4 731.6,1291.7 728,1288 714.6,1290.5 700,1285.6 692.2,1288.4 688.5,1284.7 682.4,1286.7 680,1293.2 672.7,1288.4 667.9,1294.4 660.6,1298.1 659.3,1309 660.6,1318.8 659.3,1326 648.4,1328.5 644.8,1320 638.7,1313.9 629,1316.3 619.2,1322.4 609.5,1323.6 604.7,1330.9 605.9,1338.2 614.4,1343.1 616.8,1350.4 625.3,1354 621.7,1362.5 619.2,1372.2 614.4,1377.1 604.7,1381.9 594.9,1378.3 587.6,1379.5 581.6,1384.4 582.8,1391.7 590.1,1395.3 582.8,1401.4 573.1,1403.8 570.6,1413.5 575.5,1420.8 577.9,1429.3 570.6,1434.2 563.3,1436.6 558.5,1430.6 556,1423.3 546.3,1424.5 539,1418.4 529.3,1416 522,1418.4 519.6,1424.5 513.5,1420.8 514.7,1412.3 524.4,1409.9 531.7,1402.6 531.7,1391.7 529.3,1383.2 536.6,1379.5 531.7,1373.4 536.6,1368.6 545.1,1366.2 541.5,1361.3 534.2,1361.3 529.3,1355.2 522,1351.6 514.7,1345.5 513.5,1338.2 511.1,1329.7 503.8,1324.8 497.7,1320 489.2,1313.9 481.9,1306.6 475.8,1312.7 477.1,1320 483.1,1327.3 488,1334.6 491.6,1343.1 497.7,1351.6 502.6,1360.1 496.5,1364.9 495.3,1374.7 490.4,1379.5 491.6,1386.8 500.1,1394.1 497.7,1397.7 490.4,1392.9 484.3,1386.8 480.7,1390.5 488,1399 495.3,1406.3 488,1408.7 483.1,1409.9 475.8,1401.4 466.1,1396.5 456.4,1395.3 452.7,1403.8 446.7,1411.1 439.4,1408.7 434.5,1402.6 439.4,1394.1 436.9,1384.4 430.9,1377.1 432.1,1369.8 426,1362.5 423.6,1352.8 419.9,1343.1 413.9,1333.3 415.1,1323.6 410.2,1316.3 405.3,1309 409,1298.1 402.9,1289.6 393.2,1283.5 385.9,1278.6 379.8,1275 368.9,1279.9 356.7,1281.1 344.6,1276.2 337.3,1278.6 333.6,1270.1 330,1264.1 321.3,1260.6 315.2,1255.7 307.9,1261.8 300.6,1266.6 293.3,1270.3 290.9,1281.2 283.6,1280 278.8,1273.9 271.5,1270.3 264.2,1266.6 258.8,1264.5 252,1269.1 249.6,1263 247.2,1255.7 241.1,1249.6 238.6,1239.9 233.8,1231.4 235,1221.7 230.1,1213.2 228.9,1204.7 233.8,1202.2 227.7,1194.9 225.3,1185.2 222.9,1175.5 219.2,1165.8 215.6,1156 215.6,1147.5 221.6,1145.8 213.1,1150 205.8,1154.1 201,1159.7 193.7,1154.8 186.4,1159.7 179.1,1153.6 166.9,1152.4 154.8,1156 149.9,1150 140.2,1147.5 135.3,1140.2 125.6,1136.6 120.8,1133 124.4,1124.4 126.8,1115.9 120.8,1109.9 115.9,1103.8 106.2,1102.6 112.3,1097.7 108.6,1092.9 98.9,1091.6 90.4,1096.5 91.6,1088 86.7,1080.7 85.5,1072.2 79.4,1064.9 78.2,1056.4 84.3,1049.1 86.7,1041.8 95.2,1043 102.5,1036.9 107.4,1028.4 112.3,1022.4 111,1016.3 120.8,1012.6 126.8,1013.9 134.1,1015.1 142.6,1013.4 140.2,1005.3 143.9,1000.5 153.6,1005.3 159.7,1009 162.1,1001.7 168.2,995.6 174.2,990.8 173,983.5 179.1,976.2 179.1,967.7 186.4,965.2 190,960.4 201,959.2 210.7,956.7 220.4,956.7 230.1,953.1 226.5,942.2 225.3,934.9 220.4,930 224.8,919.3 229.7,912 227.2,904.7 234.5,899.9 233.3,892.6 222.4,890.1 212.6,887.7 210.2,880.4 200.5,876.8 195.6,868.3 184.7,865.8 176.2,859.8 178.6,852.5 170.1,854.9 161.6,851.3 166.5,844 178.6,841.5 190.8,839.1 200.5,834.2 202.9,826.9 193.2,822.1 189.5,816 193.2,809.9 202.9,811.1 215.1,813.6 227.2,812.4 222.4,802.6 223.6,792.9 232.1,788.1 236.9,778.3 241.8,766.2 249.1,758.9 258.8,755.2 264.9,762.5 271,767.4 280.7,765 288,768.6 297.7,775.9 307.4,777.1 315.9,777.1 326.9,778.3 334.2,783.2 341.5,788.1 348.8,786.8 356,792.9 364.6,795.3 373.1,797.8 380.4,803.9 382.8,814.8 387.6,824.5 391.3,833 399.8,836.7 404.7,841.5 409.5,835.5 416.8,833 424.1,824.5 433.8,824.5 443.5,820.9 453.3,819.7 463,816 467.9,806.3 472.7,800.2 482.4,801.4 494.6,801.4 504.3,800.2 511.6,797.8 521.3,801.4 531,806.3 535.9,814.8 540.8,820.9 531,824.5 538.3,834.2 543.2,841.5 548.1,848.8 552.9,856.1 554.9,862.9 560.2,865.8 562.6,875.6 569.9,885.3 572.4,893.8 579.9,895 588.1,895 600.2,891.4 607.5,888.9 613.6,890.1 617.2,896.2 626.9,893.8 636.7,891.4 646.4,887.7 648.8,880.4 656.1,875.6 661,879.2 665.8,887.7 673.1,892.6 678,887.7 687.7,886.5 688.9,878 695,871.9 699.9,865.8 708.4,861 714.4,853.7 724.2,847.6 731.5,839.1 738.8,833 742.4,829.9 748.5,822.1 753.3,812.4 759.4,801.4 763.1,790.5 772.8,780.8 777.6,771 783.7,758.9 787.4,746.7 794.7,737 801.9,727.3 808,726.8 814.1,723.6 815.3,720 815.3,720 809.3,717.1 812.9,708.5 820.2,701.3 822.6,694 829.9,689.1 838.4,684.2 834.8,676.9 827.5,672.1 822.6,664.8 817.8,657.5 810.5,651.4 810.5,647.8 820.2,640.5 822.6,633.2 829.9,628.3 832.4,618.6 839.7,612.5 849.4,616.2 859.1,615 868.8,618.6 878.5,622.3 885.8,618.6 893.1,611.3 899.2,605.2 900,603.2 909.7,599.5 920.7,604.4 924.3,615.3 929.2,623.9 941.3,626.3 952.3,632.4 960.8,631.1 969.3,623.9 975.3,616.6 985.1,608.1 997.2,600.8 1006.9,593.5 992.4,588.6 985.1,583.8 987.5,568 1004.5,564.3 1006.9,554.6 1016.7,547.3 1026.4,542.4 1026.6,543.9 1016.8,538.5 1015.6,530 1012,521.5 1022.9,511.8 1030.2,502.1 1038.7,493.6 1033.9,483.9 1019.3,485.1 1015.6,477.8 1032.6,472.9 1047.2,464.4 1049.9,461Z"/>
<path d="M1265.5,1010.5 L1273,1009 L1278.5,1011 L1280,1019 L1279,1026 L1274,1029 L1267,1026 L1268,1021 L1275,1020 L1271,1013 Z" fill="#2f3538" fill-opacity="0.55"/>
</g>
<g font-size="21.8" fill="#202020" text-anchor="middle" font-family="'Liberation Serif', serif">
<text x="1261" y="267">城口县</text>
<text x="1458" y="397">巫溪县</text>
<text x="1130" y="480">开州区</text>
<text x="1306" y="564">云阳县</text>
<text x="1489" y="585">奉节县</text>
<text x="1673" y="529">巫山县</text>
<text x="1150" y="671">万州区</text>
<text x="912" y="675">梁平区</text>
<text x="953" y="797">忠县</text>
<text x="800" y="826">垫江县</text>
<text x="1107" y="890">石柱土家族自治县</text>
<text x="953" y="969">丰都县</text>
<text x="714" y="928">长寿区</text>
<text x="772" y="1030">涪陵区</text>
<text x="880" y="1124">武隆区</text>
<text x="1100" y="1135">彭水苗族土家族自治县</text>
<text x="1264" y="1120">黔江区</text>
<text x="1273" y="1290">酉阳土家族苗族自治县</text>
<text x="1347" y="1429">秀山土家族苗族自治县</text>
<text x="717" y="1205">南川区</text>
<text x="566" y="1297">綦江区</text>
<text x="390" y="1225">江津区</text>
<text x="277" y="1156">永川区</text>
<text x="151" y="1096">荣昌区</text>
<text x="225" y="1033">大足区</text>
<text x="353" y="955">铜梁区</text>
<text x="245" y="864">潼南区</text>
<text x="428" y="873">合川区</text>
<text x="380" y="1062">璧山区</text>
<text x="533" y="1053" font-size="27">中心城区</text>
</g>
</svg>
<div class="lt">人口净迁移占比<span style="margin-left:-7px">（</span><span class="pc" style="margin:0 9px 0 3px">%</span>）</div>
<div class="lv">值</div>
<div class="bar"></div>
<div class="tk" style="top:302px"></div><div class="tl" style="top:290.5px">39%</div>
<div class="tk" style="top:352px"></div><div class="tl" style="top:339.0px">25%</div>
<div class="tk" style="top:406px"></div><div class="tl" style="top:391.5px">10%</div>
<div class="tk" style="top:458px"></div><div class="tl" style="top:444.5px"><span class="mn">−</span>5%</div>
<div class="tk" style="top:509px"></div><div class="tl" style="top:495.1px"><span class="mn">−</span>19%</div>
<div class="tk" style="top:562px"></div><div class="tl" style="top:547.7px"><span class="mn">−</span>34%</div>
<div class="tk" style="top:610px"></div><div class="tl" style="top:596.5px"><span class="mn">−</span>48%</div>
</body></html>
